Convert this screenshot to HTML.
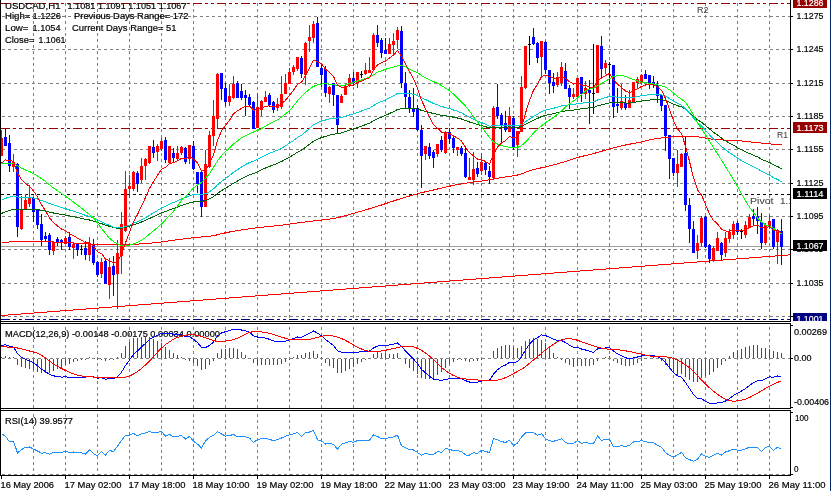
<!DOCTYPE html><html><head><meta charset="utf-8"><style>html,body{margin:0;padding:0;background:#fff;overflow:hidden}svg{display:block}text{font-family:"Liberation Sans",Arial,sans-serif;white-space:pre}</style></head><body>
<svg width="831" height="491" viewBox="0 0 831 491" shape-rendering="crispEdges">
<defs><clipPath id="cmain"><rect x="1" y="0" width="789" height="321"/></clipPath><clipPath id="cmacd"><rect x="1" y="324" width="789" height="84"/></clipPath><clipPath id="crsi"><rect x="1" y="411" width="789" height="64"/></clipPath></defs>
<rect x="0" y="0" width="831" height="491" fill="#fff"/>
<g clip-path="url(#cmain)">
<line x1="0" y1="16.5" x2="790" y2="16.5" stroke="#808080" stroke-dasharray="3 3" stroke-dashoffset="4"/>
<line x1="0" y1="49.5" x2="790" y2="49.5" stroke="#808080" stroke-dasharray="3 3" stroke-dashoffset="4"/>
<line x1="0" y1="83.5" x2="790" y2="83.5" stroke="#808080" stroke-dasharray="3 3" stroke-dashoffset="4"/>
<line x1="0" y1="116.5" x2="790" y2="116.5" stroke="#808080" stroke-dasharray="3 3" stroke-dashoffset="4"/>
<line x1="0" y1="149.5" x2="790" y2="149.5" stroke="#808080" stroke-dasharray="3 3" stroke-dashoffset="4"/>
<line x1="0" y1="183.5" x2="790" y2="183.5" stroke="#808080" stroke-dasharray="3 3" stroke-dashoffset="4"/>
<line x1="0" y1="216.5" x2="790" y2="216.5" stroke="#808080" stroke-dasharray="3 3" stroke-dashoffset="4"/>
<line x1="0" y1="249.5" x2="790" y2="249.5" stroke="#808080" stroke-dasharray="3 3" stroke-dashoffset="4"/>
<line x1="0" y1="283.5" x2="790" y2="283.5" stroke="#808080" stroke-dasharray="3 3" stroke-dashoffset="4"/>
<line x1="0" y1="316.5" x2="790" y2="316.5" stroke="#808080" stroke-dasharray="3 3" stroke-dashoffset="4"/>
<line x1="33.5" y1="0" x2="33.5" y2="321" stroke="#808080" stroke-dasharray="3 3" stroke-dashoffset="3"/>
<line x1="65.5" y1="0" x2="65.5" y2="321" stroke="#808080" stroke-dasharray="3 3" stroke-dashoffset="3"/>
<line x1="97.5" y1="0" x2="97.5" y2="321" stroke="#808080" stroke-dasharray="3 3" stroke-dashoffset="3"/>
<line x1="129.5" y1="0" x2="129.5" y2="321" stroke="#808080" stroke-dasharray="3 3" stroke-dashoffset="3"/>
<line x1="161.5" y1="0" x2="161.5" y2="321" stroke="#808080" stroke-dasharray="3 3" stroke-dashoffset="3"/>
<line x1="193.5" y1="0" x2="193.5" y2="321" stroke="#808080" stroke-dasharray="3 3" stroke-dashoffset="3"/>
<line x1="225.5" y1="0" x2="225.5" y2="321" stroke="#808080" stroke-dasharray="3 3" stroke-dashoffset="3"/>
<line x1="257.5" y1="0" x2="257.5" y2="321" stroke="#808080" stroke-dasharray="3 3" stroke-dashoffset="3"/>
<line x1="289.5" y1="0" x2="289.5" y2="321" stroke="#808080" stroke-dasharray="3 3" stroke-dashoffset="3"/>
<line x1="321.5" y1="0" x2="321.5" y2="321" stroke="#808080" stroke-dasharray="3 3" stroke-dashoffset="3"/>
<line x1="353.5" y1="0" x2="353.5" y2="321" stroke="#808080" stroke-dasharray="3 3" stroke-dashoffset="3"/>
<line x1="385.5" y1="0" x2="385.5" y2="321" stroke="#808080" stroke-dasharray="3 3" stroke-dashoffset="3"/>
<line x1="417.5" y1="0" x2="417.5" y2="321" stroke="#808080" stroke-dasharray="3 3" stroke-dashoffset="3"/>
<line x1="449.5" y1="0" x2="449.5" y2="321" stroke="#808080" stroke-dasharray="3 3" stroke-dashoffset="3"/>
<line x1="481.5" y1="0" x2="481.5" y2="321" stroke="#808080" stroke-dasharray="3 3" stroke-dashoffset="3"/>
<line x1="513.5" y1="0" x2="513.5" y2="321" stroke="#808080" stroke-dasharray="3 3" stroke-dashoffset="3"/>
<line x1="545.5" y1="0" x2="545.5" y2="321" stroke="#808080" stroke-dasharray="3 3" stroke-dashoffset="3"/>
<line x1="577.5" y1="0" x2="577.5" y2="321" stroke="#808080" stroke-dasharray="3 3" stroke-dashoffset="3"/>
<line x1="609.5" y1="0" x2="609.5" y2="321" stroke="#808080" stroke-dasharray="3 3" stroke-dashoffset="3"/>
<line x1="641.5" y1="0" x2="641.5" y2="321" stroke="#808080" stroke-dasharray="3 3" stroke-dashoffset="3"/>
<line x1="673.5" y1="0" x2="673.5" y2="321" stroke="#808080" stroke-dasharray="3 3" stroke-dashoffset="3"/>
<line x1="705.5" y1="0" x2="705.5" y2="321" stroke="#808080" stroke-dasharray="3 3" stroke-dashoffset="3"/>
<line x1="737.5" y1="0" x2="737.5" y2="321" stroke="#808080" stroke-dasharray="3 3" stroke-dashoffset="3"/>
<line x1="769.5" y1="0" x2="769.5" y2="321" stroke="#808080" stroke-dasharray="3 3" stroke-dashoffset="3"/>
</g>
<g clip-path="url(#cmacd)">
<line x1="0" y1="358.5" x2="790" y2="358.5" stroke="#808080" stroke-dasharray="3 3" stroke-dashoffset="4"/>
<line x1="33.5" y1="324" x2="33.5" y2="408" stroke="#808080" stroke-dasharray="3 3" stroke-dashoffset="3"/>
<line x1="65.5" y1="324" x2="65.5" y2="408" stroke="#808080" stroke-dasharray="3 3" stroke-dashoffset="3"/>
<line x1="97.5" y1="324" x2="97.5" y2="408" stroke="#808080" stroke-dasharray="3 3" stroke-dashoffset="3"/>
<line x1="129.5" y1="324" x2="129.5" y2="408" stroke="#808080" stroke-dasharray="3 3" stroke-dashoffset="3"/>
<line x1="161.5" y1="324" x2="161.5" y2="408" stroke="#808080" stroke-dasharray="3 3" stroke-dashoffset="3"/>
<line x1="193.5" y1="324" x2="193.5" y2="408" stroke="#808080" stroke-dasharray="3 3" stroke-dashoffset="3"/>
<line x1="225.5" y1="324" x2="225.5" y2="408" stroke="#808080" stroke-dasharray="3 3" stroke-dashoffset="3"/>
<line x1="257.5" y1="324" x2="257.5" y2="408" stroke="#808080" stroke-dasharray="3 3" stroke-dashoffset="3"/>
<line x1="289.5" y1="324" x2="289.5" y2="408" stroke="#808080" stroke-dasharray="3 3" stroke-dashoffset="3"/>
<line x1="321.5" y1="324" x2="321.5" y2="408" stroke="#808080" stroke-dasharray="3 3" stroke-dashoffset="3"/>
<line x1="353.5" y1="324" x2="353.5" y2="408" stroke="#808080" stroke-dasharray="3 3" stroke-dashoffset="3"/>
<line x1="385.5" y1="324" x2="385.5" y2="408" stroke="#808080" stroke-dasharray="3 3" stroke-dashoffset="3"/>
<line x1="417.5" y1="324" x2="417.5" y2="408" stroke="#808080" stroke-dasharray="3 3" stroke-dashoffset="3"/>
<line x1="449.5" y1="324" x2="449.5" y2="408" stroke="#808080" stroke-dasharray="3 3" stroke-dashoffset="3"/>
<line x1="481.5" y1="324" x2="481.5" y2="408" stroke="#808080" stroke-dasharray="3 3" stroke-dashoffset="3"/>
<line x1="513.5" y1="324" x2="513.5" y2="408" stroke="#808080" stroke-dasharray="3 3" stroke-dashoffset="3"/>
<line x1="545.5" y1="324" x2="545.5" y2="408" stroke="#808080" stroke-dasharray="3 3" stroke-dashoffset="3"/>
<line x1="577.5" y1="324" x2="577.5" y2="408" stroke="#808080" stroke-dasharray="3 3" stroke-dashoffset="3"/>
<line x1="609.5" y1="324" x2="609.5" y2="408" stroke="#808080" stroke-dasharray="3 3" stroke-dashoffset="3"/>
<line x1="641.5" y1="324" x2="641.5" y2="408" stroke="#808080" stroke-dasharray="3 3" stroke-dashoffset="3"/>
<line x1="673.5" y1="324" x2="673.5" y2="408" stroke="#808080" stroke-dasharray="3 3" stroke-dashoffset="3"/>
<line x1="705.5" y1="324" x2="705.5" y2="408" stroke="#808080" stroke-dasharray="3 3" stroke-dashoffset="3"/>
<line x1="737.5" y1="324" x2="737.5" y2="408" stroke="#808080" stroke-dasharray="3 3" stroke-dashoffset="3"/>
<line x1="769.5" y1="324" x2="769.5" y2="408" stroke="#808080" stroke-dasharray="3 3" stroke-dashoffset="3"/>
</g>
<g clip-path="url(#crsi)">
<line x1="0" y1="474.5" x2="790" y2="474.5" stroke="#808080" stroke-dasharray="3 3" stroke-dashoffset="4"/>
<line x1="33.5" y1="411" x2="33.5" y2="475" stroke="#808080" stroke-dasharray="3 3" stroke-dashoffset="3"/>
<line x1="65.5" y1="411" x2="65.5" y2="475" stroke="#808080" stroke-dasharray="3 3" stroke-dashoffset="3"/>
<line x1="97.5" y1="411" x2="97.5" y2="475" stroke="#808080" stroke-dasharray="3 3" stroke-dashoffset="3"/>
<line x1="129.5" y1="411" x2="129.5" y2="475" stroke="#808080" stroke-dasharray="3 3" stroke-dashoffset="3"/>
<line x1="161.5" y1="411" x2="161.5" y2="475" stroke="#808080" stroke-dasharray="3 3" stroke-dashoffset="3"/>
<line x1="193.5" y1="411" x2="193.5" y2="475" stroke="#808080" stroke-dasharray="3 3" stroke-dashoffset="3"/>
<line x1="225.5" y1="411" x2="225.5" y2="475" stroke="#808080" stroke-dasharray="3 3" stroke-dashoffset="3"/>
<line x1="257.5" y1="411" x2="257.5" y2="475" stroke="#808080" stroke-dasharray="3 3" stroke-dashoffset="3"/>
<line x1="289.5" y1="411" x2="289.5" y2="475" stroke="#808080" stroke-dasharray="3 3" stroke-dashoffset="3"/>
<line x1="321.5" y1="411" x2="321.5" y2="475" stroke="#808080" stroke-dasharray="3 3" stroke-dashoffset="3"/>
<line x1="353.5" y1="411" x2="353.5" y2="475" stroke="#808080" stroke-dasharray="3 3" stroke-dashoffset="3"/>
<line x1="385.5" y1="411" x2="385.5" y2="475" stroke="#808080" stroke-dasharray="3 3" stroke-dashoffset="3"/>
<line x1="417.5" y1="411" x2="417.5" y2="475" stroke="#808080" stroke-dasharray="3 3" stroke-dashoffset="3"/>
<line x1="449.5" y1="411" x2="449.5" y2="475" stroke="#808080" stroke-dasharray="3 3" stroke-dashoffset="3"/>
<line x1="481.5" y1="411" x2="481.5" y2="475" stroke="#808080" stroke-dasharray="3 3" stroke-dashoffset="3"/>
<line x1="513.5" y1="411" x2="513.5" y2="475" stroke="#808080" stroke-dasharray="3 3" stroke-dashoffset="3"/>
<line x1="545.5" y1="411" x2="545.5" y2="475" stroke="#808080" stroke-dasharray="3 3" stroke-dashoffset="3"/>
<line x1="577.5" y1="411" x2="577.5" y2="475" stroke="#808080" stroke-dasharray="3 3" stroke-dashoffset="3"/>
<line x1="609.5" y1="411" x2="609.5" y2="475" stroke="#808080" stroke-dasharray="3 3" stroke-dashoffset="3"/>
<line x1="641.5" y1="411" x2="641.5" y2="475" stroke="#808080" stroke-dasharray="3 3" stroke-dashoffset="3"/>
<line x1="673.5" y1="411" x2="673.5" y2="475" stroke="#808080" stroke-dasharray="3 3" stroke-dashoffset="3"/>
<line x1="705.5" y1="411" x2="705.5" y2="475" stroke="#808080" stroke-dasharray="3 3" stroke-dashoffset="3"/>
<line x1="737.5" y1="411" x2="737.5" y2="475" stroke="#808080" stroke-dasharray="3 3" stroke-dashoffset="3"/>
<line x1="769.5" y1="411" x2="769.5" y2="475" stroke="#808080" stroke-dasharray="3 3" stroke-dashoffset="3"/>
</g>
<g clip-path="url(#cmain)">
<line x1="0" y1="3.5" x2="790" y2="3.5" stroke="#960000" stroke-dasharray="9 3 3 3 3 3" stroke-dashoffset="23"/>
<line x1="0" y1="128.5" x2="790" y2="128.5" stroke="#960000" stroke-dasharray="9 3 3 3 3 3" stroke-dashoffset="23"/>
<line x1="0" y1="194.5" x2="790" y2="194.5" stroke="#000" stroke-dasharray="3 3" stroke-dashoffset="5"/>
<line x1="0" y1="319.5" x2="790" y2="319.5" stroke="#000080" stroke-dasharray="9 3 3 3 3 3" stroke-dashoffset="23"/>
<line x1="0" y1="246.5" x2="790" y2="246.5" stroke="#a0a0a0"/>
<line x1="0" y1="315.61" x2="790" y2="254.84" stroke="#ff0000"/>
<text transform="translate(697,13) scale(1,1.0000)" fill="#484848" font-size="9.6" textLength="11.5" lengthAdjust="spacingAndGlyphs" stroke="#484848" stroke-width="0.08" style="will-change:transform">R2</text>
<text transform="translate(777,138) scale(1,1.0000)" fill="#484848" font-size="9.6" textLength="11" lengthAdjust="spacingAndGlyphs" stroke="#484848" stroke-width="0.08" style="will-change:transform">R1</text>
<text transform="translate(750,204) scale(1,1.0000)" fill="#484848" font-size="9.6" textLength="23.5" lengthAdjust="spacingAndGlyphs" stroke="#484848" stroke-width="0.08" style="will-change:transform">Pivot</text>
<text transform="translate(780,204) scale(1,1.0000)" fill="#484848" font-size="9.6" textLength="29" lengthAdjust="spacingAndGlyphs" stroke="#484848" stroke-width="0.08" style="will-change:transform">1.1114</text>
<rect x="1" y="130" width="1" height="26" fill="#ff0000"/>
<rect x="0" y="138" width="3" height="18" fill="#ff0000"/>
<rect x="5" y="128" width="1" height="18" fill="#0000ff"/>
<rect x="4" y="137" width="3" height="9" fill="#0000ff"/>
<rect x="9" y="135" width="1" height="37" fill="#0000ff"/>
<rect x="8" y="143" width="3" height="23" fill="#0000ff"/>
<rect x="13" y="154" width="1" height="18" fill="#ff0000"/>
<rect x="12" y="162" width="3" height="5" fill="#ff0000"/>
<rect x="17" y="163" width="1" height="74" fill="#0000ff"/>
<rect x="16" y="164" width="3" height="63" fill="#0000ff"/>
<rect x="21" y="196" width="1" height="34" fill="#ff0000"/>
<rect x="20" y="210" width="3" height="19" fill="#ff0000"/>
<rect x="25" y="194" width="1" height="15" fill="#ff0000"/>
<rect x="24" y="200" width="3" height="9" fill="#ff0000"/>
<rect x="29" y="185" width="1" height="22" fill="#ff0000"/>
<rect x="28" y="198" width="3" height="6" fill="#ff0000"/>
<rect x="33" y="197" width="1" height="25" fill="#0000ff"/>
<rect x="32" y="198" width="3" height="14" fill="#0000ff"/>
<rect x="37" y="209" width="1" height="20" fill="#0000ff"/>
<rect x="36" y="210" width="3" height="15" fill="#0000ff"/>
<rect x="41" y="214" width="1" height="32" fill="#0000ff"/>
<rect x="40" y="224" width="3" height="16" fill="#0000ff"/>
<rect x="45" y="232" width="1" height="10" fill="#0000ff"/>
<rect x="44" y="236" width="3" height="3" fill="#0000ff"/>
<rect x="49" y="233" width="1" height="22" fill="#0000ff"/>
<rect x="48" y="235" width="3" height="15" fill="#0000ff"/>
<rect x="53" y="242" width="1" height="13" fill="#ff0000"/>
<rect x="52" y="242" width="3" height="9" fill="#ff0000"/>
<rect x="57" y="237" width="1" height="9" fill="#0000ff"/>
<rect x="56" y="239" width="3" height="4" fill="#0000ff"/>
<rect x="61" y="239" width="1" height="11" fill="#0000ff"/>
<rect x="60" y="240" width="3" height="3" fill="#0000ff"/>
<rect x="65" y="236" width="1" height="8" fill="#ff0000"/>
<rect x="64" y="238" width="3" height="6" fill="#ff0000"/>
<rect x="69" y="232" width="1" height="18" fill="#0000ff"/>
<rect x="68" y="237" width="3" height="10" fill="#0000ff"/>
<rect x="73" y="243" width="1" height="16" fill="#ff0000"/>
<rect x="72" y="244" width="3" height="4" fill="#ff0000"/>
<rect x="77" y="244" width="1" height="12" fill="#0000ff"/>
<rect x="76" y="244" width="3" height="6" fill="#0000ff"/>
<rect x="81" y="245" width="1" height="10" fill="#000"/>
<rect x="80" y="249" width="3" height="1" fill="#000"/>
<rect x="85" y="241" width="1" height="19" fill="#0000ff"/>
<rect x="84" y="248" width="3" height="7" fill="#0000ff"/>
<rect x="89" y="237" width="1" height="24" fill="#ff0000"/>
<rect x="88" y="243" width="3" height="12" fill="#ff0000"/>
<rect x="93" y="239" width="1" height="26" fill="#0000ff"/>
<rect x="92" y="245" width="3" height="18" fill="#0000ff"/>
<rect x="97" y="261" width="1" height="16" fill="#0000ff"/>
<rect x="96" y="262" width="3" height="13" fill="#0000ff"/>
<rect x="101" y="258" width="1" height="20" fill="#ff0000"/>
<rect x="100" y="262" width="3" height="12" fill="#ff0000"/>
<rect x="105" y="259" width="1" height="25" fill="#0000ff"/>
<rect x="104" y="261" width="3" height="23" fill="#0000ff"/>
<rect x="109" y="258" width="1" height="41" fill="#ff0000"/>
<rect x="108" y="267" width="3" height="18" fill="#ff0000"/>
<rect x="113" y="256" width="1" height="40" fill="#0000ff"/>
<rect x="112" y="266" width="3" height="9" fill="#0000ff"/>
<rect x="117" y="240" width="1" height="69" fill="#ff0000"/>
<rect x="116" y="253" width="3" height="21" fill="#ff0000"/>
<rect x="121" y="212" width="1" height="62" fill="#ff0000"/>
<rect x="120" y="224" width="3" height="32" fill="#ff0000"/>
<rect x="125" y="171" width="1" height="61" fill="#ff0000"/>
<rect x="124" y="189" width="3" height="42" fill="#ff0000"/>
<rect x="129" y="175" width="1" height="23" fill="#ff0000"/>
<rect x="128" y="186" width="3" height="3" fill="#ff0000"/>
<rect x="133" y="171" width="1" height="20" fill="#ff0000"/>
<rect x="132" y="172" width="3" height="17" fill="#ff0000"/>
<rect x="137" y="171" width="1" height="21" fill="#0000ff"/>
<rect x="136" y="173" width="3" height="11" fill="#0000ff"/>
<rect x="141" y="158" width="1" height="25" fill="#ff0000"/>
<rect x="140" y="166" width="3" height="14" fill="#ff0000"/>
<rect x="145" y="158" width="1" height="22" fill="#ff0000"/>
<rect x="144" y="159" width="3" height="7" fill="#ff0000"/>
<rect x="149" y="146" width="1" height="18" fill="#ff0000"/>
<rect x="148" y="146" width="3" height="17" fill="#ff0000"/>
<rect x="153" y="140" width="1" height="18" fill="#0000ff"/>
<rect x="152" y="147" width="3" height="6" fill="#0000ff"/>
<rect x="157" y="144" width="1" height="17" fill="#ff0000"/>
<rect x="156" y="146" width="3" height="6" fill="#ff0000"/>
<rect x="161" y="138" width="1" height="13" fill="#ff0000"/>
<rect x="160" y="141" width="3" height="8" fill="#ff0000"/>
<rect x="165" y="137" width="1" height="26" fill="#0000ff"/>
<rect x="164" y="140" width="3" height="20" fill="#0000ff"/>
<rect x="169" y="146" width="1" height="18" fill="#ff0000"/>
<rect x="168" y="146" width="3" height="17" fill="#ff0000"/>
<rect x="173" y="148" width="1" height="15" fill="#0000ff"/>
<rect x="172" y="153" width="3" height="5" fill="#0000ff"/>
<rect x="177" y="146" width="1" height="14" fill="#ff0000"/>
<rect x="176" y="153" width="3" height="6" fill="#ff0000"/>
<rect x="181" y="146" width="1" height="9" fill="#ff0000"/>
<rect x="180" y="147" width="3" height="6" fill="#ff0000"/>
<rect x="185" y="147" width="1" height="17" fill="#0000ff"/>
<rect x="184" y="148" width="3" height="14" fill="#0000ff"/>
<rect x="189" y="145" width="1" height="19" fill="#ff0000"/>
<rect x="188" y="145" width="3" height="14" fill="#ff0000"/>
<rect x="193" y="141" width="1" height="29" fill="#0000ff"/>
<rect x="192" y="146" width="3" height="23" fill="#0000ff"/>
<rect x="197" y="172" width="1" height="21" fill="#0000ff"/>
<rect x="196" y="172" width="3" height="12" fill="#0000ff"/>
<rect x="201" y="172" width="1" height="45" fill="#0000ff"/>
<rect x="200" y="172" width="3" height="35" fill="#0000ff"/>
<rect x="205" y="150" width="1" height="57" fill="#ff0000"/>
<rect x="204" y="164" width="3" height="43" fill="#ff0000"/>
<rect x="209" y="131" width="1" height="37" fill="#ff0000"/>
<rect x="208" y="135" width="3" height="32" fill="#ff0000"/>
<rect x="213" y="100" width="1" height="46" fill="#ff0000"/>
<rect x="212" y="116" width="3" height="20" fill="#ff0000"/>
<rect x="217" y="73" width="1" height="55" fill="#ff0000"/>
<rect x="216" y="74" width="3" height="45" fill="#ff0000"/>
<rect x="221" y="73" width="1" height="27" fill="#0000ff"/>
<rect x="220" y="73" width="3" height="16" fill="#0000ff"/>
<rect x="225" y="83" width="1" height="23" fill="#0000ff"/>
<rect x="224" y="88" width="3" height="14" fill="#0000ff"/>
<rect x="229" y="84" width="1" height="22" fill="#ff0000"/>
<rect x="228" y="96" width="3" height="6" fill="#ff0000"/>
<rect x="233" y="76" width="1" height="23" fill="#ff0000"/>
<rect x="232" y="84" width="3" height="14" fill="#ff0000"/>
<rect x="237" y="81" width="1" height="17" fill="#0000ff"/>
<rect x="236" y="83" width="3" height="15" fill="#0000ff"/>
<rect x="241" y="84" width="1" height="16" fill="#0000ff"/>
<rect x="240" y="91" width="3" height="7" fill="#0000ff"/>
<rect x="245" y="90" width="1" height="26" fill="#0000ff"/>
<rect x="244" y="95" width="3" height="3" fill="#0000ff"/>
<rect x="249" y="94" width="1" height="13" fill="#0000ff"/>
<rect x="248" y="97" width="3" height="8" fill="#0000ff"/>
<rect x="253" y="101" width="1" height="28" fill="#0000ff"/>
<rect x="252" y="102" width="3" height="27" fill="#0000ff"/>
<rect x="257" y="93" width="1" height="35" fill="#ff0000"/>
<rect x="256" y="107" width="3" height="21" fill="#ff0000"/>
<rect x="261" y="100" width="1" height="16" fill="#ff0000"/>
<rect x="260" y="101" width="3" height="9" fill="#ff0000"/>
<rect x="265" y="91" width="1" height="11" fill="#ff0000"/>
<rect x="264" y="97" width="3" height="5" fill="#ff0000"/>
<rect x="269" y="93" width="1" height="14" fill="#0000ff"/>
<rect x="268" y="95" width="3" height="10" fill="#0000ff"/>
<rect x="273" y="101" width="1" height="12" fill="#0000ff"/>
<rect x="272" y="102" width="3" height="8" fill="#0000ff"/>
<rect x="277" y="98" width="1" height="13" fill="#ff0000"/>
<rect x="276" y="104" width="3" height="4" fill="#ff0000"/>
<rect x="281" y="76" width="1" height="33" fill="#ff0000"/>
<rect x="280" y="94" width="3" height="13" fill="#ff0000"/>
<rect x="285" y="74" width="1" height="20" fill="#ff0000"/>
<rect x="284" y="83" width="3" height="11" fill="#ff0000"/>
<rect x="289" y="68" width="1" height="16" fill="#ff0000"/>
<rect x="288" y="72" width="3" height="12" fill="#ff0000"/>
<rect x="293" y="65" width="1" height="10" fill="#ff0000"/>
<rect x="292" y="67" width="3" height="5" fill="#ff0000"/>
<rect x="297" y="57" width="1" height="14" fill="#ff0000"/>
<rect x="296" y="57" width="3" height="12" fill="#ff0000"/>
<rect x="301" y="56" width="1" height="22" fill="#0000ff"/>
<rect x="300" y="58" width="3" height="16" fill="#0000ff"/>
<rect x="305" y="42" width="1" height="43" fill="#ff0000"/>
<rect x="304" y="43" width="3" height="32" fill="#ff0000"/>
<rect x="309" y="25" width="1" height="27" fill="#ff0000"/>
<rect x="308" y="37" width="3" height="4" fill="#ff0000"/>
<rect x="313" y="21" width="1" height="22" fill="#ff0000"/>
<rect x="312" y="24" width="3" height="14" fill="#ff0000"/>
<rect x="317" y="17" width="1" height="50" fill="#0000ff"/>
<rect x="316" y="23" width="3" height="44" fill="#0000ff"/>
<rect x="321" y="64" width="1" height="23" fill="#0000ff"/>
<rect x="320" y="68" width="3" height="7" fill="#0000ff"/>
<rect x="325" y="66" width="1" height="31" fill="#0000ff"/>
<rect x="324" y="69" width="3" height="24" fill="#0000ff"/>
<rect x="329" y="86" width="1" height="17" fill="#ff0000"/>
<rect x="328" y="87" width="3" height="7" fill="#ff0000"/>
<rect x="333" y="83" width="1" height="23" fill="#0000ff"/>
<rect x="332" y="83" width="3" height="12" fill="#0000ff"/>
<rect x="337" y="95" width="1" height="39" fill="#0000ff"/>
<rect x="336" y="95" width="3" height="30" fill="#0000ff"/>
<rect x="341" y="94" width="1" height="9" fill="#ff0000"/>
<rect x="340" y="96" width="3" height="7" fill="#ff0000"/>
<rect x="345" y="85" width="1" height="10" fill="#ff0000"/>
<rect x="344" y="86" width="3" height="9" fill="#ff0000"/>
<rect x="349" y="74" width="1" height="13" fill="#ff0000"/>
<rect x="348" y="78" width="3" height="8" fill="#ff0000"/>
<rect x="353" y="72" width="1" height="14" fill="#0000ff"/>
<rect x="352" y="78" width="3" height="5" fill="#0000ff"/>
<rect x="357" y="72" width="1" height="16" fill="#ff0000"/>
<rect x="356" y="72" width="3" height="11" fill="#ff0000"/>
<rect x="361" y="71" width="1" height="7" fill="#000"/>
<rect x="360" y="74" width="3" height="1" fill="#000"/>
<rect x="365" y="63" width="1" height="12" fill="#ff0000"/>
<rect x="364" y="70" width="3" height="4" fill="#ff0000"/>
<rect x="369" y="57" width="1" height="16" fill="#ff0000"/>
<rect x="368" y="70" width="3" height="3" fill="#ff0000"/>
<rect x="373" y="33" width="1" height="37" fill="#ff0000"/>
<rect x="372" y="35" width="3" height="35" fill="#ff0000"/>
<rect x="377" y="25" width="1" height="22" fill="#0000ff"/>
<rect x="376" y="35" width="3" height="8" fill="#0000ff"/>
<rect x="381" y="38" width="1" height="20" fill="#0000ff"/>
<rect x="380" y="40" width="3" height="13" fill="#0000ff"/>
<rect x="385" y="38" width="1" height="16" fill="#0000ff"/>
<rect x="384" y="50" width="3" height="4" fill="#0000ff"/>
<rect x="389" y="38" width="1" height="16" fill="#ff0000"/>
<rect x="388" y="44" width="3" height="10" fill="#ff0000"/>
<rect x="393" y="33" width="1" height="21" fill="#ff0000"/>
<rect x="392" y="41" width="3" height="4" fill="#ff0000"/>
<rect x="397" y="27" width="1" height="22" fill="#ff0000"/>
<rect x="396" y="30" width="3" height="10" fill="#ff0000"/>
<rect x="401" y="26" width="1" height="62" fill="#0000ff"/>
<rect x="400" y="31" width="3" height="52" fill="#0000ff"/>
<rect x="405" y="72" width="1" height="37" fill="#0000ff"/>
<rect x="404" y="83" width="3" height="14" fill="#0000ff"/>
<rect x="409" y="90" width="1" height="23" fill="#0000ff"/>
<rect x="408" y="97" width="3" height="11" fill="#0000ff"/>
<rect x="413" y="88" width="1" height="29" fill="#0000ff"/>
<rect x="412" y="108" width="3" height="4" fill="#0000ff"/>
<rect x="417" y="105" width="1" height="26" fill="#0000ff"/>
<rect x="416" y="108" width="3" height="22" fill="#0000ff"/>
<rect x="421" y="125" width="1" height="63" fill="#0000ff"/>
<rect x="420" y="130" width="3" height="26" fill="#0000ff"/>
<rect x="425" y="146" width="1" height="14" fill="#ff0000"/>
<rect x="424" y="146" width="3" height="8" fill="#ff0000"/>
<rect x="429" y="143" width="1" height="16" fill="#0000ff"/>
<rect x="428" y="147" width="3" height="9" fill="#0000ff"/>
<rect x="433" y="150" width="1" height="18" fill="#0000ff"/>
<rect x="432" y="152" width="3" height="6" fill="#0000ff"/>
<rect x="437" y="144" width="1" height="13" fill="#ff0000"/>
<rect x="436" y="144" width="3" height="10" fill="#ff0000"/>
<rect x="441" y="136" width="1" height="16" fill="#0000ff"/>
<rect x="440" y="140" width="3" height="10" fill="#0000ff"/>
<rect x="445" y="131" width="1" height="23" fill="#ff0000"/>
<rect x="444" y="133" width="3" height="20" fill="#ff0000"/>
<rect x="449" y="128" width="1" height="16" fill="#0000ff"/>
<rect x="448" y="132" width="3" height="7" fill="#0000ff"/>
<rect x="453" y="136" width="1" height="17" fill="#0000ff"/>
<rect x="452" y="138" width="3" height="10" fill="#0000ff"/>
<rect x="457" y="147" width="1" height="9" fill="#ff0000"/>
<rect x="456" y="147" width="3" height="3" fill="#ff0000"/>
<rect x="461" y="146" width="1" height="10" fill="#0000ff"/>
<rect x="460" y="148" width="3" height="6" fill="#0000ff"/>
<rect x="465" y="148" width="1" height="30" fill="#0000ff"/>
<rect x="464" y="153" width="3" height="24" fill="#0000ff"/>
<rect x="469" y="158" width="1" height="22" fill="#ff0000"/>
<rect x="468" y="177" width="3" height="3" fill="#ff0000"/>
<rect x="473" y="152" width="1" height="33" fill="#ff0000"/>
<rect x="472" y="169" width="3" height="11" fill="#ff0000"/>
<rect x="477" y="162" width="1" height="15" fill="#0000ff"/>
<rect x="476" y="168" width="3" height="6" fill="#0000ff"/>
<rect x="481" y="153" width="1" height="22" fill="#ff0000"/>
<rect x="480" y="162" width="3" height="9" fill="#ff0000"/>
<rect x="485" y="162" width="1" height="13" fill="#0000ff"/>
<rect x="484" y="163" width="3" height="7" fill="#0000ff"/>
<rect x="489" y="166" width="1" height="18" fill="#0000ff"/>
<rect x="488" y="171" width="3" height="6" fill="#0000ff"/>
<rect x="493" y="106" width="1" height="73" fill="#ff0000"/>
<rect x="492" y="108" width="3" height="70" fill="#ff0000"/>
<rect x="497" y="84" width="1" height="35" fill="#0000ff"/>
<rect x="496" y="107" width="3" height="9" fill="#0000ff"/>
<rect x="501" y="113" width="1" height="29" fill="#0000ff"/>
<rect x="500" y="115" width="3" height="10" fill="#0000ff"/>
<rect x="505" y="111" width="1" height="21" fill="#0000ff"/>
<rect x="504" y="123" width="3" height="7" fill="#0000ff"/>
<rect x="509" y="107" width="1" height="25" fill="#ff0000"/>
<rect x="508" y="116" width="3" height="16" fill="#ff0000"/>
<rect x="513" y="116" width="1" height="34" fill="#0000ff"/>
<rect x="512" y="118" width="3" height="29" fill="#0000ff"/>
<rect x="517" y="131" width="1" height="26" fill="#ff0000"/>
<rect x="516" y="131" width="3" height="14" fill="#ff0000"/>
<rect x="521" y="76" width="1" height="56" fill="#ff0000"/>
<rect x="520" y="87" width="3" height="45" fill="#ff0000"/>
<rect x="525" y="46" width="1" height="43" fill="#ff0000"/>
<rect x="524" y="46" width="3" height="42" fill="#ff0000"/>
<rect x="529" y="36" width="1" height="29" fill="#000"/>
<rect x="528" y="44" width="3" height="1" fill="#000"/>
<rect x="533" y="28" width="1" height="17" fill="#0000ff"/>
<rect x="532" y="37" width="3" height="7" fill="#0000ff"/>
<rect x="537" y="42" width="1" height="21" fill="#0000ff"/>
<rect x="536" y="43" width="3" height="15" fill="#0000ff"/>
<rect x="541" y="41" width="1" height="35" fill="#ff0000"/>
<rect x="540" y="41" width="3" height="16" fill="#ff0000"/>
<rect x="545" y="41" width="1" height="33" fill="#0000ff"/>
<rect x="544" y="42" width="3" height="28" fill="#0000ff"/>
<rect x="549" y="70" width="1" height="24" fill="#0000ff"/>
<rect x="548" y="70" width="3" height="13" fill="#0000ff"/>
<rect x="553" y="73" width="1" height="20" fill="#0000ff"/>
<rect x="552" y="82" width="3" height="4" fill="#0000ff"/>
<rect x="557" y="72" width="1" height="15" fill="#ff0000"/>
<rect x="556" y="77" width="3" height="8" fill="#ff0000"/>
<rect x="561" y="62" width="1" height="24" fill="#ff0000"/>
<rect x="560" y="67" width="3" height="16" fill="#ff0000"/>
<rect x="565" y="63" width="1" height="26" fill="#0000ff"/>
<rect x="564" y="71" width="3" height="18" fill="#0000ff"/>
<rect x="569" y="85" width="1" height="24" fill="#0000ff"/>
<rect x="568" y="88" width="3" height="9" fill="#0000ff"/>
<rect x="573" y="88" width="1" height="11" fill="#ff0000"/>
<rect x="572" y="94" width="3" height="3" fill="#ff0000"/>
<rect x="577" y="78" width="1" height="20" fill="#ff0000"/>
<rect x="576" y="78" width="3" height="19" fill="#ff0000"/>
<rect x="581" y="77" width="1" height="25" fill="#0000ff"/>
<rect x="580" y="77" width="3" height="17" fill="#0000ff"/>
<rect x="585" y="81" width="1" height="18" fill="#ff0000"/>
<rect x="584" y="88" width="3" height="6" fill="#ff0000"/>
<rect x="589" y="80" width="1" height="44" fill="#0000ff"/>
<rect x="588" y="90" width="3" height="3" fill="#0000ff"/>
<rect x="593" y="44" width="1" height="70" fill="#000"/>
<rect x="592" y="93" width="3" height="1" fill="#000"/>
<rect x="597" y="45" width="1" height="48" fill="#ff0000"/>
<rect x="596" y="45" width="3" height="48" fill="#ff0000"/>
<rect x="601" y="36" width="1" height="42" fill="#0000ff"/>
<rect x="600" y="46" width="3" height="23" fill="#0000ff"/>
<rect x="605" y="60" width="1" height="14" fill="#ff0000"/>
<rect x="604" y="63" width="3" height="5" fill="#ff0000"/>
<rect x="609" y="62" width="1" height="22" fill="#000"/>
<rect x="608" y="64" width="3" height="1" fill="#000"/>
<rect x="613" y="65" width="1" height="53" fill="#0000ff"/>
<rect x="612" y="65" width="3" height="42" fill="#0000ff"/>
<rect x="617" y="88" width="1" height="25" fill="#0000ff"/>
<rect x="616" y="104" width="3" height="2" fill="#0000ff"/>
<rect x="621" y="84" width="1" height="26" fill="#ff0000"/>
<rect x="620" y="101" width="3" height="7" fill="#ff0000"/>
<rect x="625" y="95" width="1" height="15" fill="#0000ff"/>
<rect x="624" y="103" width="3" height="5" fill="#0000ff"/>
<rect x="629" y="90" width="1" height="18" fill="#ff0000"/>
<rect x="628" y="100" width="3" height="8" fill="#ff0000"/>
<rect x="633" y="82" width="1" height="21" fill="#ff0000"/>
<rect x="632" y="82" width="3" height="21" fill="#ff0000"/>
<rect x="637" y="77" width="1" height="11" fill="#ff0000"/>
<rect x="636" y="79" width="3" height="4" fill="#ff0000"/>
<rect x="641" y="74" width="1" height="11" fill="#ff0000"/>
<rect x="640" y="75" width="3" height="8" fill="#ff0000"/>
<rect x="645" y="70" width="1" height="9" fill="#0000ff"/>
<rect x="644" y="74" width="3" height="5" fill="#0000ff"/>
<rect x="649" y="75" width="1" height="14" fill="#0000ff"/>
<rect x="648" y="75" width="3" height="10" fill="#0000ff"/>
<rect x="653" y="76" width="1" height="12" fill="#0000ff"/>
<rect x="652" y="82" width="3" height="3" fill="#0000ff"/>
<rect x="657" y="81" width="1" height="22" fill="#0000ff"/>
<rect x="656" y="85" width="3" height="11" fill="#0000ff"/>
<rect x="661" y="94" width="1" height="17" fill="#0000ff"/>
<rect x="660" y="95" width="3" height="11" fill="#0000ff"/>
<rect x="665" y="105" width="1" height="46" fill="#0000ff"/>
<rect x="664" y="105" width="3" height="31" fill="#0000ff"/>
<rect x="669" y="135" width="1" height="44" fill="#0000ff"/>
<rect x="668" y="135" width="3" height="24" fill="#0000ff"/>
<rect x="673" y="158" width="1" height="18" fill="#0000ff"/>
<rect x="672" y="158" width="3" height="15" fill="#0000ff"/>
<rect x="677" y="150" width="1" height="37" fill="#ff0000"/>
<rect x="676" y="164" width="3" height="9" fill="#ff0000"/>
<rect x="681" y="153" width="1" height="14" fill="#ff0000"/>
<rect x="680" y="154" width="3" height="13" fill="#ff0000"/>
<rect x="685" y="137" width="1" height="74" fill="#0000ff"/>
<rect x="684" y="153" width="3" height="52" fill="#0000ff"/>
<rect x="689" y="198" width="1" height="45" fill="#0000ff"/>
<rect x="688" y="205" width="3" height="24" fill="#0000ff"/>
<rect x="693" y="221" width="1" height="32" fill="#0000ff"/>
<rect x="692" y="229" width="3" height="24" fill="#0000ff"/>
<rect x="697" y="235" width="1" height="24" fill="#ff0000"/>
<rect x="696" y="243" width="3" height="8" fill="#ff0000"/>
<rect x="701" y="216" width="1" height="31" fill="#ff0000"/>
<rect x="700" y="218" width="3" height="25" fill="#ff0000"/>
<rect x="705" y="216" width="1" height="32" fill="#0000ff"/>
<rect x="704" y="217" width="3" height="30" fill="#0000ff"/>
<rect x="709" y="244" width="1" height="19" fill="#0000ff"/>
<rect x="708" y="245" width="3" height="14" fill="#0000ff"/>
<rect x="713" y="246" width="1" height="16" fill="#ff0000"/>
<rect x="712" y="248" width="3" height="12" fill="#ff0000"/>
<rect x="717" y="232" width="1" height="19" fill="#ff0000"/>
<rect x="716" y="238" width="3" height="13" fill="#ff0000"/>
<rect x="721" y="242" width="1" height="18" fill="#0000ff"/>
<rect x="720" y="243" width="3" height="12" fill="#0000ff"/>
<rect x="725" y="232" width="1" height="25" fill="#ff0000"/>
<rect x="724" y="238" width="3" height="15" fill="#ff0000"/>
<rect x="729" y="229" width="1" height="14" fill="#ff0000"/>
<rect x="728" y="232" width="3" height="7" fill="#ff0000"/>
<rect x="733" y="221" width="1" height="18" fill="#ff0000"/>
<rect x="732" y="224" width="3" height="11" fill="#ff0000"/>
<rect x="737" y="221" width="1" height="14" fill="#0000ff"/>
<rect x="736" y="223" width="3" height="9" fill="#0000ff"/>
<rect x="741" y="229" width="1" height="10" fill="#000"/>
<rect x="740" y="231" width="3" height="1" fill="#000"/>
<rect x="745" y="221" width="1" height="17" fill="#ff0000"/>
<rect x="744" y="225" width="3" height="10" fill="#ff0000"/>
<rect x="749" y="214" width="1" height="14" fill="#ff0000"/>
<rect x="748" y="217" width="3" height="10" fill="#ff0000"/>
<rect x="753" y="209" width="1" height="17" fill="#0000ff"/>
<rect x="752" y="216" width="3" height="3" fill="#0000ff"/>
<rect x="757" y="207" width="1" height="27" fill="#0000ff"/>
<rect x="756" y="216" width="3" height="5" fill="#0000ff"/>
<rect x="761" y="213" width="1" height="36" fill="#0000ff"/>
<rect x="760" y="222" width="3" height="21" fill="#0000ff"/>
<rect x="765" y="223" width="1" height="22" fill="#ff0000"/>
<rect x="764" y="225" width="3" height="18" fill="#ff0000"/>
<rect x="769" y="215" width="1" height="14" fill="#ff0000"/>
<rect x="768" y="221" width="3" height="5" fill="#ff0000"/>
<rect x="773" y="219" width="1" height="30" fill="#0000ff"/>
<rect x="772" y="219" width="3" height="28" fill="#0000ff"/>
<rect x="777" y="229" width="1" height="35" fill="#ff0000"/>
<rect x="776" y="230" width="3" height="12" fill="#ff0000"/>
<rect x="781" y="219" width="1" height="46" fill="#0000ff"/>
<rect x="780" y="231" width="3" height="16" fill="#0000ff"/>
<polyline points="1.5,242.4 5.5,242.1 9.5,242.0 13.5,241.9 17.5,241.8 21.5,241.8 25.5,241.8 29.5,241.7 33.5,241.7 37.5,241.7 41.5,241.7 45.5,241.8 49.5,241.9 53.5,242.0 57.5,242.2 61.5,242.4 65.5,242.6 69.5,242.9 73.5,243.0 77.5,243.3 81.5,243.5 85.5,243.8 89.5,244.0 93.5,244.2 97.5,244.4 101.5,244.4 105.5,244.4 109.5,244.4 113.5,244.4 117.5,244.4 121.5,244.4 125.5,244.4 129.5,244.4 133.5,244.2 137.5,244.1 141.5,243.8 145.5,243.6 149.5,243.3 153.5,242.9 157.5,242.4 161.5,241.9 165.5,241.4 169.5,240.8 173.5,240.3 177.5,239.7 181.5,239.2 185.5,238.7 189.5,238.2 193.5,237.7 197.5,237.3 201.5,237.0 205.5,236.6 209.5,236.2 213.5,235.7 217.5,234.8 221.5,233.7 225.5,232.8 229.5,232.0 233.5,231.3 237.5,230.6 241.5,230.0 245.5,229.4 249.5,228.8 253.5,228.2 257.5,227.7 261.5,227.3 265.5,226.9 269.5,226.5 273.5,226.1 277.5,225.7 281.5,225.2 285.5,224.7 289.5,224.1 293.5,223.5 297.5,222.9 301.5,222.4 305.5,221.9 309.5,221.4 313.5,221.0 317.5,220.6 321.5,220.1 325.5,219.6 329.5,219.1 333.5,218.5 337.5,217.7 341.5,216.8 345.5,215.7 349.5,214.5 353.5,213.4 357.5,212.2 361.5,211.1 365.5,209.9 369.5,208.7 373.5,207.5 377.5,206.2 381.5,205.0 385.5,203.7 389.5,202.3 393.5,201.0 397.5,199.7 401.5,198.4 405.5,197.2 409.5,196.0 413.5,194.9 417.5,193.8 421.5,192.7 425.5,191.8 429.5,190.9 433.5,190.0 437.5,189.0 441.5,188.1 445.5,187.1 449.5,186.2 453.5,185.4 457.5,184.6 461.5,183.9 465.5,183.2 469.5,182.6 473.5,182.0 477.5,181.6 481.5,181.1 485.5,180.5 489.5,179.8 493.5,179.0 497.5,178.2 501.5,177.5 505.5,176.9 509.5,176.4 513.5,175.8 517.5,175.0 521.5,173.8 525.5,172.3 529.5,170.8 533.5,169.7 537.5,168.7 541.5,167.8 545.5,166.8 549.5,165.9 553.5,164.9 557.5,163.8 561.5,162.7 565.5,161.4 569.5,160.1 573.5,158.7 577.5,157.5 581.5,156.5 585.5,155.5 589.5,154.6 593.5,153.6 597.5,152.4 601.5,151.3 605.5,150.1 609.5,149.0 613.5,147.9 617.5,146.9 621.5,145.9 625.5,145.0 629.5,144.2 633.5,143.4 637.5,142.7 641.5,141.9 645.5,140.9 649.5,139.9 653.5,139.1 657.5,138.4 661.5,137.9 665.5,137.4 669.5,137.1 673.5,136.9 677.5,136.6 681.5,136.5 685.5,136.5 689.5,136.6 693.5,136.7 697.5,136.9 701.5,137.2 705.5,138.1 709.5,138.8 713.5,139.3 717.5,139.6 721.5,139.9 725.5,140.2 729.5,140.4 733.5,140.6 737.5,140.8 741.5,141.0 745.5,141.4 749.5,141.8 753.5,142.3 757.5,142.7 761.5,143.1 765.5,143.5 769.5,143.9 773.5,144.2 777.5,144.5 781.5,144.7" fill="none" stroke="#ff0000" stroke-width="1"/>
<polyline points="1.5,213.5 5.5,211.7 9.5,210.5 13.5,209.2 17.5,209.7 21.5,209.7 25.5,209.4 29.5,209.2 33.5,209.2 37.5,209.6 41.5,210.4 45.5,211.1 49.5,212.2 53.5,213.0 57.5,213.7 61.5,214.5 65.5,215.1 69.5,215.9 73.5,216.7 77.5,217.6 81.5,218.4 85.5,219.3 89.5,220.0 93.5,221.1 97.5,222.5 101.5,223.6 105.5,225.1 109.5,226.3 113.5,227.5 117.5,228.2 121.5,228.1 125.5,227.1 129.5,226.0 133.5,224.6 137.5,223.5 141.5,222.0 145.5,220.4 149.5,218.4 153.5,216.7 157.5,214.9 161.5,212.9 165.5,211.5 169.5,209.8 173.5,208.4 177.5,207.0 181.5,205.4 185.5,204.3 189.5,202.7 193.5,201.8 197.5,201.3 201.5,201.5 205.5,200.5 209.5,198.8 213.5,196.6 217.5,193.4 221.5,190.7 225.5,188.3 229.5,185.9 233.5,183.2 237.5,181.0 241.5,178.8 245.5,176.6 249.5,174.7 253.5,173.5 257.5,171.8 261.5,169.9 265.5,168.0 269.5,166.4 273.5,164.9 277.5,163.3 281.5,161.5 285.5,159.4 289.5,157.1 293.5,154.8 297.5,152.2 301.5,150.1 305.5,147.3 309.5,144.4 313.5,141.3 317.5,139.3 321.5,137.6 325.5,136.4 329.5,135.1 333.5,134.1 337.5,133.8 341.5,132.8 345.5,131.6 349.5,130.2 353.5,129.0 357.5,127.5 361.5,126.1 365.5,124.6 369.5,123.2 373.5,120.9 377.5,118.8 381.5,117.1 385.5,115.4 389.5,113.5 393.5,111.6 397.5,109.5 401.5,108.8 405.5,108.5 409.5,108.4 413.5,108.5 417.5,109.1 421.5,110.3 425.5,111.3 429.5,112.4 433.5,113.6 437.5,114.4 441.5,115.3 445.5,115.8 449.5,116.4 453.5,117.2 457.5,118.0 461.5,119.0 465.5,120.5 469.5,122.0 473.5,123.2 477.5,124.5 481.5,125.5 485.5,126.7 489.5,128.0 493.5,127.5 497.5,127.2 501.5,127.1 505.5,127.2 509.5,126.9 513.5,127.4 517.5,127.5 521.5,126.5 525.5,124.4 529.5,122.3 533.5,120.2 537.5,118.5 541.5,116.5 545.5,115.3 549.5,114.4 553.5,113.7 557.5,112.7 561.5,111.5 565.5,110.9 569.5,110.5 573.5,110.1 577.5,109.3 581.5,108.9 585.5,108.3 589.5,107.9 593.5,107.5 597.5,105.9 601.5,104.9 605.5,103.8 609.5,102.8 613.5,102.9 617.5,103.0 621.5,102.9 625.5,103.0 629.5,103.0 633.5,102.4 637.5,101.8 641.5,101.1 645.5,100.5 649.5,100.1 653.5,99.7 657.5,99.6 661.5,99.7 665.5,100.7 669.5,102.2 673.5,104.1 677.5,105.7 681.5,106.9 685.5,109.5 689.5,112.6 693.5,116.3 697.5,119.7 701.5,122.3 705.5,125.5 709.5,129.0 713.5,132.2 717.5,135.0 721.5,138.1 725.5,140.8 729.5,143.2 733.5,145.3 737.5,147.6 741.5,149.8 745.5,151.8 749.5,153.5 753.5,155.2 757.5,156.9 761.5,159.2 765.5,160.9 769.5,162.5 773.5,164.7 777.5,166.5 781.5,168.6" fill="none" stroke="#006400" stroke-width="1"/>
<polyline points="1.5,200.2 5.5,198.3 9.5,197.1 13.5,195.9 17.5,196.9 21.5,197.4 25.5,197.5 29.5,197.6 33.5,198.1 37.5,199.0 41.5,200.5 45.5,201.8 49.5,203.5 53.5,204.9 57.5,206.3 61.5,207.6 65.5,208.7 69.5,210.0 73.5,211.2 77.5,212.6 81.5,213.9 85.5,215.4 89.5,216.4 93.5,218.0 97.5,220.0 101.5,221.6 105.5,223.8 109.5,225.3 113.5,227.1 117.5,228.0 121.5,227.9 125.5,226.5 129.5,225.1 133.5,223.2 137.5,221.8 141.5,219.8 145.5,217.7 149.5,215.1 153.5,212.9 157.5,210.5 161.5,208.1 165.5,206.3 169.5,204.2 173.5,202.5 177.5,200.8 181.5,198.9 185.5,197.5 189.5,195.7 193.5,194.7 197.5,194.3 201.5,194.7 205.5,193.7 209.5,191.6 213.5,188.9 217.5,184.8 221.5,181.4 225.5,178.5 229.5,175.6 233.5,172.3 237.5,169.7 241.5,167.1 245.5,164.6 249.5,162.5 253.5,161.2 257.5,159.3 261.5,157.3 265.5,155.1 269.5,153.3 273.5,151.8 277.5,150.1 281.5,148.1 285.5,145.8 289.5,143.2 293.5,140.5 297.5,137.5 301.5,135.2 305.5,131.9 309.5,128.6 313.5,124.8 317.5,122.8 321.5,121.0 325.5,120.0 329.5,118.9 333.5,118.0 337.5,118.2 341.5,117.4 345.5,116.3 349.5,115.0 353.5,113.8 357.5,112.4 361.5,111.0 365.5,109.6 369.5,108.2 373.5,105.6 377.5,103.3 381.5,101.5 385.5,99.8 389.5,97.8 393.5,95.8 397.5,93.5 401.5,93.1 405.5,93.2 409.5,93.7 413.5,94.3 417.5,95.6 421.5,97.7 425.5,99.5 429.5,101.5 433.5,103.5 437.5,104.9 441.5,106.5 445.5,107.5 449.5,108.6 453.5,110.0 457.5,111.3 461.5,112.8 465.5,115.1 469.5,117.3 473.5,119.2 477.5,121.1 481.5,122.6 485.5,124.3 489.5,126.2 493.5,125.5 497.5,125.2 501.5,125.1 505.5,125.3 509.5,125.0 513.5,125.8 517.5,126.0 521.5,124.6 525.5,121.8 529.5,119.0 533.5,116.3 537.5,114.2 541.5,111.6 545.5,110.1 549.5,109.1 553.5,108.3 557.5,107.2 561.5,105.8 565.5,105.2 569.5,104.9 573.5,104.5 577.5,103.6 581.5,103.2 585.5,102.7 589.5,102.3 593.5,102.0 597.5,100.0 601.5,98.9 605.5,97.6 609.5,96.4 613.5,96.8 617.5,97.1 621.5,97.2 625.5,97.6 629.5,97.7 633.5,97.2 637.5,96.5 641.5,95.8 645.5,95.2 649.5,94.8 653.5,94.4 657.5,94.5 661.5,94.9 665.5,96.3 669.5,98.5 673.5,101.2 677.5,103.4 681.5,105.3 685.5,108.8 689.5,113.1 693.5,118.1 697.5,122.5 701.5,126.0 705.5,130.3 709.5,134.8 713.5,138.9 717.5,142.5 721.5,146.5 725.5,149.7 729.5,152.7 733.5,155.3 737.5,158.0 741.5,160.6 745.5,162.9 749.5,164.9 753.5,166.8 757.5,168.7 761.5,171.4 765.5,173.3 769.5,175.0 773.5,177.6 777.5,179.5 781.5,181.8" fill="none" stroke="#00ced1" stroke-width="1"/>
<polyline points="1.5,163.8 5.5,163.3 9.5,163.4 13.5,163.8 17.5,165.7 21.5,168.1 25.5,170.0 29.5,171.5 33.5,173.6 37.5,175.9 41.5,178.6 45.5,181.6 49.5,184.8 53.5,187.9 57.5,190.7 61.5,193.6 65.5,196.2 69.5,199.0 73.5,202.1 77.5,205.2 81.5,208.3 85.5,211.5 89.5,214.6 93.5,217.8 97.5,223.1 101.5,228.6 105.5,233.5 109.5,238.3 113.5,241.5 117.5,243.9 121.5,245.5 125.5,245.7 129.5,245.2 133.5,244.0 137.5,242.5 141.5,240.2 145.5,237.5 149.5,234.1 153.5,230.7 157.5,227.4 161.5,223.9 165.5,219.8 169.5,215.5 173.5,211.2 177.5,206.2 181.5,200.1 185.5,196.4 189.5,192.5 193.5,187.9 197.5,184.9 201.5,182.3 205.5,178.6 209.5,173.5 213.5,167.2 217.5,160.9 221.5,155.7 225.5,151.7 229.5,148.1 233.5,144.1 237.5,140.9 241.5,137.8 245.5,135.7 249.5,133.6 253.5,132.0 257.5,130.5 261.5,128.6 265.5,126.2 269.5,123.9 273.5,121.9 277.5,119.8 281.5,117.1 285.5,114.0 289.5,110.6 293.5,106.0 297.5,100.8 301.5,96.3 305.5,92.7 309.5,89.2 313.5,86.4 317.5,84.7 321.5,84.1 325.5,83.7 329.5,84.2 333.5,84.5 337.5,85.6 341.5,85.4 345.5,85.0 349.5,83.5 353.5,82.2 357.5,81.0 361.5,80.0 365.5,78.7 369.5,76.9 373.5,74.7 377.5,72.3 381.5,70.7 385.5,69.3 389.5,68.1 393.5,67.1 397.5,65.7 401.5,65.2 405.5,66.9 409.5,69.3 413.5,71.3 417.5,72.6 421.5,75.6 425.5,77.8 429.5,79.9 433.5,81.5 437.5,83.4 441.5,85.5 445.5,88.1 449.5,90.6 453.5,94.0 457.5,98.0 461.5,102.1 465.5,106.2 469.5,111.2 473.5,116.8 477.5,121.9 481.5,126.9 485.5,132.1 489.5,137.6 493.5,142.1 497.5,144.0 501.5,145.6 505.5,146.5 509.5,147.3 513.5,148.0 517.5,147.5 521.5,145.6 525.5,142.2 529.5,137.7 533.5,133.0 537.5,129.3 541.5,125.9 545.5,122.7 549.5,120.1 553.5,117.3 557.5,114.4 561.5,110.8 565.5,107.0 569.5,104.1 573.5,101.0 577.5,97.9 581.5,94.7 585.5,91.0 589.5,89.1 593.5,88.2 597.5,85.9 601.5,83.4 605.5,81.2 609.5,78.8 613.5,76.5 617.5,75.6 621.5,75.8 625.5,76.2 629.5,78.1 633.5,79.4 637.5,80.7 641.5,82.1 645.5,82.3 649.5,83.6 653.5,84.0 657.5,84.8 661.5,85.9 665.5,87.1 669.5,89.8 673.5,93.1 677.5,96.4 681.5,99.3 685.5,102.3 689.5,108.2 693.5,115.2 697.5,122.6 701.5,128.7 705.5,134.6 709.5,141.3 713.5,147.7 717.5,153.7 721.5,160.1 725.5,166.6 729.5,173.1 733.5,179.7 737.5,186.4 741.5,193.8 745.5,200.6 749.5,207.1 753.5,212.7 757.5,217.8 761.5,222.1 765.5,224.7 769.5,226.3 773.5,228.3 777.5,231.3 781.5,233.6" fill="none" stroke="#00ff00" stroke-width="1"/>
<polyline points="1.5,163.0 5.5,159.8 9.5,160.8 13.5,161.1 17.5,173.0 21.5,179.8 25.5,183.6 29.5,186.3 33.5,190.9 37.5,197.0 41.5,204.7 45.5,210.9 49.5,217.9 53.5,222.4 57.5,226.0 61.5,229.0 65.5,230.7 69.5,233.6 73.5,235.6 77.5,238.1 81.5,240.2 85.5,242.8 89.5,242.9 93.5,246.5 97.5,251.6 101.5,253.6 105.5,259.0 109.5,260.5 113.5,263.1 117.5,261.3 121.5,254.6 125.5,242.8 129.5,232.6 133.5,221.6 137.5,214.7 141.5,205.9 145.5,197.5 149.5,188.2 153.5,181.7 157.5,175.3 161.5,169.2 165.5,167.4 169.5,163.6 173.5,162.5 177.5,160.9 181.5,158.4 185.5,159.0 189.5,156.5 193.5,158.7 197.5,163.2 201.5,171.1 205.5,169.9 209.5,163.6 213.5,155.1 217.5,140.4 221.5,131.0 225.5,125.6 229.5,120.3 233.5,113.8 237.5,110.8 241.5,108.4 245.5,106.4 249.5,106.1 253.5,110.2 257.5,109.7 261.5,108.2 265.5,106.2 269.5,105.9 273.5,106.6 277.5,106.2 281.5,104.1 285.5,100.3 289.5,95.3 293.5,90.2 297.5,84.3 301.5,82.3 305.5,75.3 309.5,68.4 313.5,60.4 317.5,61.5 321.5,63.9 325.5,69.1 329.5,72.4 333.5,76.4 337.5,85.2 341.5,87.2 345.5,87.1 349.5,85.5 353.5,85.0 357.5,82.7 361.5,81.2 365.5,79.3 369.5,77.7 373.5,70.0 377.5,65.0 381.5,62.7 385.5,61.1 389.5,58.0 393.5,55.0 397.5,50.6 401.5,56.4 405.5,63.7 409.5,71.6 413.5,78.9 417.5,88.1 421.5,100.3 425.5,108.7 429.5,117.2 433.5,124.6 437.5,128.2 441.5,132.1 445.5,132.3 449.5,133.4 453.5,136.0 457.5,138.1 461.5,140.9 465.5,147.4 469.5,152.8 473.5,155.9 477.5,159.1 481.5,159.7 485.5,161.5 489.5,164.2 493.5,154.1 497.5,147.1 501.5,143.0 505.5,140.5 509.5,136.2 513.5,138.0 517.5,136.8 521.5,127.9 525.5,113.1 529.5,100.6 533.5,90.2 537.5,84.3 541.5,76.5 545.5,75.2 549.5,76.5 553.5,78.2 557.5,78.1 561.5,76.1 565.5,78.4 569.5,81.7 573.5,84.0 577.5,83.0 581.5,84.9 585.5,85.6 589.5,86.8 593.5,88.0 597.5,80.3 601.5,78.2 605.5,75.5 609.5,73.5 613.5,79.5 617.5,84.2 621.5,87.4 625.5,91.0 629.5,92.7 633.5,90.9 637.5,88.8 641.5,86.4 645.5,85.0 649.5,84.9 653.5,84.8 657.5,86.8 661.5,90.2 665.5,98.4 669.5,109.3 673.5,120.8 677.5,128.8 681.5,133.4 685.5,146.4 689.5,161.3 693.5,177.9 697.5,189.8 701.5,195.0 705.5,204.4 709.5,214.2 713.5,220.5 717.5,223.7 721.5,229.3 725.5,231.0 729.5,231.3 733.5,230.0 737.5,230.3 741.5,230.5 745.5,229.6 749.5,227.4 753.5,225.8 757.5,224.8 761.5,228.0 765.5,227.6 769.5,226.5 773.5,230.1 777.5,230.2 781.5,233.2" fill="none" stroke="#ff0000" stroke-width="1"/>
</g>
<g clip-path="url(#cmacd)">
<text transform="translate(5,337) scale(1,1.0000)" fill="#000" font-size="9.6" textLength="215" lengthAdjust="spacingAndGlyphs" stroke="#000" stroke-width="0.2" style="will-change:transform">MACD(12,26,9) -0.00148 -0.00175 0.00034 0.00000</text>
<rect x="1" y="357" width="1" height="1" fill="#ff0000"/>
<rect x="5" y="356" width="1" height="2" fill="#ff0000"/>
<rect x="9" y="357" width="1" height="1" fill="#ff0000"/>
<rect x="13" y="357" width="1" height="1" fill="#ff0000"/>
<rect x="17" y="359" width="1" height="6" fill="#008000"/>
<rect x="21" y="359" width="1" height="8" fill="#008000"/>
<rect x="25" y="359" width="1" height="9" fill="#008000"/>
<rect x="29" y="359" width="1" height="10" fill="#008000"/>
<rect x="33" y="359" width="1" height="11" fill="#008000"/>
<rect x="37" y="359" width="1" height="13" fill="#008000"/>
<rect x="41" y="359" width="1" height="14" fill="#008000"/>
<rect x="45" y="359" width="1" height="14" fill="#008000"/>
<rect x="49" y="359" width="1" height="14" fill="#008000"/>
<rect x="53" y="359" width="1" height="12" fill="#008000"/>
<rect x="57" y="359" width="1" height="10" fill="#008000"/>
<rect x="61" y="359" width="1" height="9" fill="#008000"/>
<rect x="65" y="359" width="1" height="6" fill="#008000"/>
<rect x="69" y="359" width="1" height="5" fill="#008000"/>
<rect x="73" y="359" width="1" height="3" fill="#008000"/>
<rect x="77" y="359" width="1" height="2" fill="#008000"/>
<rect x="81" y="359" width="1" height="1" fill="#008000"/>
<rect x="85" y="359" width="1" height="1" fill="#008000"/>
<rect x="89" y="357" width="1" height="1" fill="#ff0000"/>
<rect x="97" y="359" width="1" height="1" fill="#008000"/>
<rect x="101" y="359" width="1" height="1" fill="#008000"/>
<rect x="105" y="359" width="1" height="2" fill="#008000"/>
<rect x="109" y="359" width="1" height="1" fill="#008000"/>
<rect x="113" y="359" width="1" height="1" fill="#008000"/>
<rect x="117" y="357" width="1" height="1" fill="#ff0000"/>
<rect x="121" y="353" width="1" height="5" fill="#ff0000"/>
<rect x="125" y="346" width="1" height="12" fill="#ff0000"/>
<rect x="129" y="342" width="1" height="16" fill="#ff0000"/>
<rect x="133" y="338" width="1" height="20" fill="#ff0000"/>
<rect x="137" y="338" width="1" height="20" fill="#ff0000"/>
<rect x="141" y="337" width="1" height="21" fill="#ff0000"/>
<rect x="145" y="336" width="1" height="22" fill="#ff0000"/>
<rect x="149" y="337" width="1" height="21" fill="#ff0000"/>
<rect x="153" y="339" width="1" height="19" fill="#ff0000"/>
<rect x="157" y="341" width="1" height="17" fill="#ff0000"/>
<rect x="161" y="343" width="1" height="15" fill="#ff0000"/>
<rect x="165" y="347" width="1" height="11" fill="#ff0000"/>
<rect x="169" y="350" width="1" height="8" fill="#ff0000"/>
<rect x="173" y="353" width="1" height="5" fill="#ff0000"/>
<rect x="177" y="355" width="1" height="3" fill="#ff0000"/>
<rect x="181" y="357" width="1" height="1" fill="#ff0000"/>
<rect x="185" y="359" width="1" height="1" fill="#008000"/>
<rect x="189" y="359" width="1" height="2" fill="#008000"/>
<rect x="193" y="359" width="1" height="4" fill="#008000"/>
<rect x="197" y="359" width="1" height="7" fill="#008000"/>
<rect x="201" y="359" width="1" height="11" fill="#008000"/>
<rect x="205" y="359" width="1" height="10" fill="#008000"/>
<rect x="209" y="359" width="1" height="6" fill="#008000"/>
<rect x="213" y="359" width="1" height="2" fill="#008000"/>
<rect x="217" y="353" width="1" height="5" fill="#ff0000"/>
<rect x="221" y="349" width="1" height="9" fill="#ff0000"/>
<rect x="225" y="349" width="1" height="9" fill="#ff0000"/>
<rect x="229" y="348" width="1" height="10" fill="#ff0000"/>
<rect x="233" y="348" width="1" height="10" fill="#ff0000"/>
<rect x="237" y="349" width="1" height="9" fill="#ff0000"/>
<rect x="241" y="352" width="1" height="6" fill="#ff0000"/>
<rect x="245" y="355" width="1" height="3" fill="#ff0000"/>
<rect x="253" y="359" width="1" height="4" fill="#008000"/>
<rect x="257" y="359" width="1" height="6" fill="#008000"/>
<rect x="261" y="359" width="1" height="6" fill="#008000"/>
<rect x="265" y="359" width="1" height="6" fill="#008000"/>
<rect x="269" y="359" width="1" height="6" fill="#008000"/>
<rect x="273" y="359" width="1" height="6" fill="#008000"/>
<rect x="277" y="359" width="1" height="6" fill="#008000"/>
<rect x="281" y="359" width="1" height="5" fill="#008000"/>
<rect x="285" y="359" width="1" height="3" fill="#008000"/>
<rect x="289" y="359" width="1" height="1" fill="#008000"/>
<rect x="293" y="357" width="1" height="1" fill="#ff0000"/>
<rect x="297" y="355" width="1" height="3" fill="#ff0000"/>
<rect x="301" y="355" width="1" height="3" fill="#ff0000"/>
<rect x="305" y="353" width="1" height="5" fill="#ff0000"/>
<rect x="309" y="352" width="1" height="6" fill="#ff0000"/>
<rect x="313" y="351" width="1" height="7" fill="#ff0000"/>
<rect x="317" y="354" width="1" height="4" fill="#ff0000"/>
<rect x="321" y="357" width="1" height="1" fill="#ff0000"/>
<rect x="325" y="359" width="1" height="4" fill="#008000"/>
<rect x="329" y="359" width="1" height="7" fill="#008000"/>
<rect x="333" y="359" width="1" height="9" fill="#008000"/>
<rect x="337" y="359" width="1" height="14" fill="#008000"/>
<rect x="341" y="359" width="1" height="14" fill="#008000"/>
<rect x="345" y="359" width="1" height="12" fill="#008000"/>
<rect x="349" y="359" width="1" height="10" fill="#008000"/>
<rect x="353" y="359" width="1" height="8" fill="#008000"/>
<rect x="357" y="359" width="1" height="5" fill="#008000"/>
<rect x="361" y="359" width="1" height="3" fill="#008000"/>
<rect x="365" y="359" width="1" height="1" fill="#008000"/>
<rect x="373" y="354" width="1" height="4" fill="#ff0000"/>
<rect x="377" y="352" width="1" height="6" fill="#ff0000"/>
<rect x="381" y="353" width="1" height="5" fill="#ff0000"/>
<rect x="385" y="353" width="1" height="5" fill="#ff0000"/>
<rect x="389" y="354" width="1" height="4" fill="#ff0000"/>
<rect x="393" y="354" width="1" height="4" fill="#ff0000"/>
<rect x="397" y="353" width="1" height="5" fill="#ff0000"/>
<rect x="405" y="359" width="1" height="5" fill="#008000"/>
<rect x="409" y="359" width="1" height="9" fill="#008000"/>
<rect x="413" y="359" width="1" height="12" fill="#008000"/>
<rect x="417" y="359" width="1" height="15" fill="#008000"/>
<rect x="421" y="359" width="1" height="19" fill="#008000"/>
<rect x="425" y="359" width="1" height="20" fill="#008000"/>
<rect x="429" y="359" width="1" height="20" fill="#008000"/>
<rect x="433" y="359" width="1" height="19" fill="#008000"/>
<rect x="437" y="359" width="1" height="16" fill="#008000"/>
<rect x="441" y="359" width="1" height="13" fill="#008000"/>
<rect x="445" y="359" width="1" height="9" fill="#008000"/>
<rect x="449" y="359" width="1" height="5" fill="#008000"/>
<rect x="453" y="359" width="1" height="3" fill="#008000"/>
<rect x="457" y="359" width="1" height="1" fill="#008000"/>
<rect x="461" y="359" width="1" height="1" fill="#008000"/>
<rect x="465" y="359" width="1" height="2" fill="#008000"/>
<rect x="469" y="359" width="1" height="3" fill="#008000"/>
<rect x="473" y="359" width="1" height="2" fill="#008000"/>
<rect x="477" y="359" width="1" height="2" fill="#008000"/>
<rect x="481" y="359" width="1" height="1" fill="#008000"/>
<rect x="493" y="351" width="1" height="7" fill="#ff0000"/>
<rect x="497" y="348" width="1" height="10" fill="#ff0000"/>
<rect x="501" y="346" width="1" height="12" fill="#ff0000"/>
<rect x="505" y="345" width="1" height="13" fill="#ff0000"/>
<rect x="509" y="345" width="1" height="13" fill="#ff0000"/>
<rect x="513" y="347" width="1" height="11" fill="#ff0000"/>
<rect x="517" y="348" width="1" height="10" fill="#ff0000"/>
<rect x="521" y="346" width="1" height="12" fill="#ff0000"/>
<rect x="525" y="341" width="1" height="17" fill="#ff0000"/>
<rect x="529" y="339" width="1" height="19" fill="#ff0000"/>
<rect x="533" y="338" width="1" height="20" fill="#ff0000"/>
<rect x="537" y="339" width="1" height="19" fill="#ff0000"/>
<rect x="541" y="340" width="1" height="18" fill="#ff0000"/>
<rect x="545" y="343" width="1" height="15" fill="#ff0000"/>
<rect x="549" y="348" width="1" height="10" fill="#ff0000"/>
<rect x="553" y="353" width="1" height="5" fill="#ff0000"/>
<rect x="557" y="357" width="1" height="1" fill="#ff0000"/>
<rect x="561" y="359" width="1" height="1" fill="#008000"/>
<rect x="565" y="359" width="1" height="4" fill="#008000"/>
<rect x="569" y="359" width="1" height="6" fill="#008000"/>
<rect x="573" y="359" width="1" height="8" fill="#008000"/>
<rect x="577" y="359" width="1" height="7" fill="#008000"/>
<rect x="581" y="359" width="1" height="7" fill="#008000"/>
<rect x="585" y="359" width="1" height="7" fill="#008000"/>
<rect x="589" y="359" width="1" height="7" fill="#008000"/>
<rect x="593" y="359" width="1" height="6" fill="#008000"/>
<rect x="597" y="359" width="1" height="2" fill="#008000"/>
<rect x="605" y="357" width="1" height="1" fill="#ff0000"/>
<rect x="609" y="356" width="1" height="2" fill="#ff0000"/>
<rect x="613" y="359" width="1" height="2" fill="#008000"/>
<rect x="617" y="359" width="1" height="4" fill="#008000"/>
<rect x="621" y="359" width="1" height="6" fill="#008000"/>
<rect x="625" y="359" width="1" height="7" fill="#008000"/>
<rect x="629" y="359" width="1" height="7" fill="#008000"/>
<rect x="633" y="359" width="1" height="6" fill="#008000"/>
<rect x="637" y="359" width="1" height="4" fill="#008000"/>
<rect x="641" y="359" width="1" height="2" fill="#008000"/>
<rect x="653" y="357" width="1" height="1" fill="#ff0000"/>
<rect x="661" y="359" width="1" height="2" fill="#008000"/>
<rect x="665" y="359" width="1" height="6" fill="#008000"/>
<rect x="669" y="359" width="1" height="10" fill="#008000"/>
<rect x="673" y="359" width="1" height="14" fill="#008000"/>
<rect x="677" y="359" width="1" height="16" fill="#008000"/>
<rect x="681" y="359" width="1" height="15" fill="#008000"/>
<rect x="685" y="359" width="1" height="18" fill="#008000"/>
<rect x="689" y="359" width="1" height="21" fill="#008000"/>
<rect x="693" y="359" width="1" height="23" fill="#008000"/>
<rect x="697" y="359" width="1" height="23" fill="#008000"/>
<rect x="701" y="359" width="1" height="19" fill="#008000"/>
<rect x="705" y="359" width="1" height="17" fill="#008000"/>
<rect x="709" y="359" width="1" height="16" fill="#008000"/>
<rect x="713" y="359" width="1" height="13" fill="#008000"/>
<rect x="717" y="359" width="1" height="9" fill="#008000"/>
<rect x="721" y="359" width="1" height="6" fill="#008000"/>
<rect x="725" y="359" width="1" height="2" fill="#008000"/>
<rect x="729" y="356" width="1" height="2" fill="#ff0000"/>
<rect x="733" y="352" width="1" height="6" fill="#ff0000"/>
<rect x="737" y="350" width="1" height="8" fill="#ff0000"/>
<rect x="741" y="349" width="1" height="9" fill="#ff0000"/>
<rect x="745" y="347" width="1" height="11" fill="#ff0000"/>
<rect x="749" y="346" width="1" height="12" fill="#ff0000"/>
<rect x="753" y="345" width="1" height="13" fill="#ff0000"/>
<rect x="757" y="345" width="1" height="13" fill="#ff0000"/>
<rect x="761" y="348" width="1" height="10" fill="#ff0000"/>
<rect x="765" y="348" width="1" height="10" fill="#ff0000"/>
<rect x="769" y="349" width="1" height="9" fill="#ff0000"/>
<rect x="773" y="351" width="1" height="7" fill="#ff0000"/>
<rect x="777" y="352" width="1" height="6" fill="#ff0000"/>
<rect x="781" y="353" width="1" height="5" fill="#ff0000"/>
<polyline points="1.5,345.5 5.5,344.8 9.5,346.2 13.5,347.1 17.5,353.6 21.5,357.3 25.5,359.4 29.5,360.8 33.5,363.0 37.5,365.8 41.5,369.2 45.5,371.7 49.5,374.5 53.5,375.8 57.5,376.7 61.5,377.1 65.5,376.9 69.5,377.2 73.5,377.1 77.5,377.2 81.5,377.1 85.5,377.2 89.5,376.1 93.5,376.7 97.5,378.1 101.5,377.8 105.5,379.2 109.5,378.7 113.5,378.7 117.5,376.6 121.5,372.2 125.5,365.5 129.5,360.0 133.5,354.4 137.5,351.0 141.5,347.0 145.5,343.3 149.5,339.5 153.5,337.2 157.5,335.2 161.5,333.4 165.5,333.9 169.5,333.4 173.5,334.2 177.5,334.8 181.5,335.0 185.5,336.7 189.5,336.8 193.5,339.2 197.5,342.5 201.5,347.4 205.5,347.6 209.5,345.4 213.5,342.1 217.5,336.1 221.5,332.9 225.5,331.7 229.5,330.7 233.5,329.2 237.5,329.5 241.5,330.0 245.5,330.7 249.5,332.2 253.5,335.8 257.5,337.0 261.5,337.7 265.5,338.1 269.5,339.3 273.5,340.8 277.5,341.8 281.5,341.9 285.5,341.2 289.5,339.9 293.5,338.6 297.5,337.0 301.5,337.3 305.5,335.2 309.5,333.3 313.5,331.0 317.5,333.1 321.5,335.8 325.5,339.7 329.5,342.5 333.5,345.5 337.5,350.7 341.5,352.3 345.5,352.8 349.5,352.6 353.5,352.8 357.5,352.1 361.5,351.9 365.5,351.4 369.5,351.1 373.5,347.9 377.5,346.1 381.5,345.7 385.5,345.6 389.5,344.9 393.5,344.3 397.5,343.0 401.5,346.6 405.5,350.9 409.5,355.2 413.5,359.0 417.5,363.6 421.5,369.3 425.5,372.9 429.5,376.4 433.5,379.0 437.5,379.8 441.5,380.5 445.5,379.4 449.5,378.8 453.5,378.9 457.5,378.7 461.5,378.8 465.5,380.7 469.5,382.0 473.5,382.0 477.5,382.1 481.5,381.0 485.5,380.5 489.5,380.4 493.5,374.2 497.5,369.7 501.5,366.9 505.5,365.0 509.5,362.3 513.5,362.7 517.5,361.7 521.5,357.1 525.5,349.9 529.5,344.1 533.5,339.7 537.5,337.7 541.5,334.9 545.5,335.5 549.5,337.3 553.5,339.3 557.5,340.3 561.5,340.4 565.5,342.6 569.5,345.1 573.5,347.1 577.5,347.4 581.5,349.0 585.5,350.0 589.5,351.2 593.5,352.3 597.5,349.0 601.5,348.6 605.5,347.9 609.5,347.6 613.5,351.1 617.5,353.9 621.5,355.8 625.5,357.8 629.5,358.7 633.5,357.9 637.5,357.0 641.5,356.0 645.5,355.5 649.5,355.6 653.5,355.7 657.5,356.8 661.5,358.6 665.5,362.6 669.5,367.6 673.5,372.7 677.5,375.9 681.5,377.2 685.5,382.5 689.5,388.4 693.5,394.7 697.5,398.5 701.5,398.9 705.5,401.1 709.5,403.4 713.5,403.8 717.5,402.8 721.5,402.8 725.5,401.0 729.5,398.5 733.5,395.4 737.5,393.2 741.5,391.0 745.5,388.5 749.5,385.4 753.5,382.8 757.5,380.6 761.5,380.6 765.5,378.8 769.5,376.9 773.5,377.3 777.5,376.0 781.5,376.2" fill="none" stroke="#0000ff" stroke-width="1"/>
<polyline points="1.5,346.1 5.5,346.8 9.5,347.3 13.5,347.7 17.5,348.0 21.5,348.8 25.5,349.9 29.5,351.0 33.5,352.0 37.5,353.1 41.5,355.3 45.5,358.0 49.5,360.9 53.5,363.9 57.5,366.4 61.5,368.5 65.5,370.5 69.5,372.3 73.5,373.9 77.5,375.1 81.5,376.0 85.5,376.6 89.5,376.9 93.5,377.0 97.5,377.0 101.5,377.1 105.5,377.2 109.5,377.4 113.5,377.6 117.5,377.7 121.5,377.7 125.5,377.1 129.5,375.9 133.5,374.1 137.5,371.5 141.5,368.5 145.5,364.9 149.5,361.0 153.5,356.6 157.5,352.2 161.5,348.1 165.5,344.6 169.5,341.7 173.5,339.3 177.5,337.5 181.5,336.1 185.5,335.2 189.5,334.9 193.5,334.8 197.5,335.2 201.5,336.3 205.5,337.8 209.5,339.3 213.5,340.6 217.5,341.4 221.5,341.5 225.5,341.1 229.5,340.5 233.5,339.6 237.5,338.1 241.5,336.1 245.5,334.2 249.5,332.5 253.5,331.5 257.5,331.4 261.5,331.9 265.5,332.5 269.5,333.4 273.5,334.5 277.5,335.8 281.5,337.1 285.5,338.3 289.5,339.3 293.5,339.8 297.5,339.9 301.5,339.9 305.5,339.8 309.5,339.3 313.5,338.5 317.5,337.3 321.5,336.3 325.5,335.7 329.5,335.7 333.5,336.1 337.5,337.1 341.5,338.5 345.5,340.4 349.5,342.6 353.5,345.0 357.5,347.2 361.5,349.0 365.5,350.4 369.5,351.3 373.5,352.0 377.5,351.6 381.5,351.0 385.5,350.2 389.5,349.4 393.5,348.5 397.5,347.7 401.5,346.7 405.5,346.1 409.5,346.1 413.5,346.9 417.5,348.4 421.5,350.4 425.5,353.0 429.5,356.1 433.5,359.7 437.5,363.7 441.5,367.4 445.5,370.6 449.5,373.3 453.5,375.5 457.5,377.2 461.5,378.3 465.5,378.9 469.5,379.4 473.5,379.7 477.5,380.0 481.5,380.1 485.5,380.3 489.5,380.5 493.5,380.7 497.5,380.2 501.5,379.2 505.5,377.6 509.5,375.7 513.5,373.6 517.5,371.4 521.5,369.3 525.5,366.7 529.5,363.3 533.5,359.9 537.5,356.6 541.5,353.4 545.5,350.0 549.5,347.1 553.5,344.2 557.5,341.7 561.5,339.9 565.5,338.8 569.5,338.6 573.5,339.2 577.5,340.3 581.5,341.7 585.5,343.2 589.5,344.6 593.5,345.9 597.5,347.2 601.5,348.2 605.5,348.9 609.5,349.2 613.5,349.2 617.5,349.6 621.5,350.2 625.5,350.8 629.5,351.6 633.5,352.3 637.5,353.3 641.5,354.2 645.5,355.1 649.5,356.0 653.5,356.5 657.5,356.7 661.5,356.8 665.5,356.9 669.5,357.3 673.5,358.4 677.5,360.1 681.5,362.3 685.5,364.8 689.5,367.7 693.5,371.4 697.5,375.6 701.5,380.0 705.5,384.0 709.5,387.8 713.5,391.2 717.5,394.3 721.5,397.1 725.5,399.4 729.5,400.8 733.5,401.2 737.5,400.9 741.5,400.2 745.5,399.1 749.5,397.5 753.5,395.4 757.5,393.2 761.5,390.7 765.5,388.4 769.5,386.3 773.5,384.2 777.5,382.4 781.5,380.7" fill="none" stroke="#ff0000" stroke-width="1"/>
</g>
<g clip-path="url(#crsi)">
<text transform="translate(5,424) scale(1,1.0000)" fill="#000" font-size="9.6" textLength="68" lengthAdjust="spacingAndGlyphs" stroke="#000" stroke-width="0.2" style="will-change:transform">RSI(14) 39.9577</text>
<polyline points="1.5,433.8 5.5,436.1 9.5,441.9 13.5,441.2 17.5,453.0 21.5,449.5 25.5,447.4 29.5,447.0 33.5,449.1 37.5,451.0 41.5,453.1 45.5,452.8 49.5,454.3 53.5,452.4 57.5,452.4 61.5,452.4 65.5,451.2 69.5,452.6 73.5,452.0 77.5,452.9 81.5,452.9 85.5,454.0 89.5,449.8 93.5,453.7 97.5,455.7 101.5,451.6 105.5,455.1 109.5,450.4 113.5,451.6 117.5,446.2 121.5,440.5 125.5,435.4 129.5,435.1 133.5,433.4 137.5,435.8 141.5,433.7 145.5,432.9 149.5,431.4 153.5,432.9 157.5,432.2 161.5,431.5 165.5,436.2 169.5,434.4 173.5,437.0 177.5,436.4 181.5,435.5 185.5,439.0 189.5,436.3 193.5,441.4 197.5,444.2 201.5,448.0 205.5,441.0 209.5,437.4 213.5,435.4 217.5,431.6 221.5,434.0 225.5,436.1 229.5,435.6 233.5,434.4 237.5,436.7 241.5,436.7 245.5,436.7 249.5,438.1 253.5,442.5 257.5,439.5 261.5,438.6 265.5,438.1 269.5,439.5 273.5,440.5 277.5,439.7 281.5,438.0 285.5,436.3 289.5,434.7 293.5,433.9 297.5,432.6 301.5,436.8 305.5,432.7 309.5,432.0 313.5,430.5 317.5,439.7 321.5,441.1 325.5,444.1 329.5,443.3 333.5,444.5 337.5,449.0 341.5,444.2 345.5,442.7 349.5,441.5 353.5,442.2 357.5,440.6 361.5,441.0 365.5,440.3 369.5,440.3 373.5,434.9 377.5,436.5 381.5,438.7 385.5,438.9 389.5,437.4 393.5,436.9 397.5,435.1 401.5,445.8 405.5,447.9 409.5,449.5 413.5,450.0 417.5,452.4 421.5,455.3 425.5,453.3 429.5,454.3 433.5,454.6 437.5,451.5 441.5,452.2 445.5,448.5 449.5,449.3 453.5,450.7 457.5,450.7 461.5,451.6 465.5,455.0 469.5,455.1 473.5,452.7 477.5,453.4 481.5,450.2 485.5,451.4 489.5,452.6 493.5,438.5 497.5,439.8 501.5,441.5 505.5,442.5 509.5,440.3 513.5,445.6 517.5,443.0 521.5,437.0 525.5,433.0 529.5,432.8 533.5,432.7 537.5,435.4 541.5,433.7 545.5,438.7 549.5,440.8 553.5,441.3 557.5,440.1 561.5,438.8 565.5,442.4 569.5,443.7 573.5,443.3 577.5,440.7 581.5,443.4 585.5,442.5 589.5,443.3 593.5,443.5 597.5,436.0 601.5,440.3 605.5,439.6 609.5,439.7 613.5,446.6 617.5,446.4 621.5,445.7 625.5,446.6 629.5,445.3 633.5,442.0 637.5,441.5 641.5,440.8 645.5,441.5 649.5,442.8 653.5,442.8 657.5,445.3 661.5,447.4 665.5,452.5 669.5,455.4 673.5,457.0 677.5,454.9 681.5,452.3 685.5,457.7 689.5,459.6 693.5,461.2 697.5,459.2 701.5,454.0 705.5,456.4 709.5,457.4 713.5,455.4 717.5,453.4 721.5,455.0 725.5,451.9 729.5,450.7 733.5,449.2 737.5,450.1 741.5,450.1 745.5,448.9 749.5,447.2 753.5,447.3 757.5,447.7 761.5,451.3 765.5,447.4 769.5,446.5 773.5,450.6 777.5,447.1 781.5,449.5" fill="none" stroke="#1e90ff" stroke-width="1"/>
</g>
<line x1="0.5" y1="0" x2="0.5" y2="476" stroke="#000"/>
<line x1="0" y1="321.5" x2="791" y2="321.5" stroke="#000"/>
<line x1="0" y1="323.5" x2="791" y2="323.5" stroke="#000"/>
<line x1="0" y1="408.5" x2="791" y2="408.5" stroke="#000"/>
<line x1="0" y1="410.5" x2="791" y2="410.5" stroke="#000"/>
<line x1="0" y1="475.5" x2="791" y2="475.5" stroke="#000"/>
<line x1="790.5" y1="0" x2="790.5" y2="322" stroke="#000"/>
<line x1="790.5" y1="323" x2="790.5" y2="409" stroke="#000"/>
<line x1="790.5" y1="410" x2="790.5" y2="476" stroke="#000"/>
<line x1="830.5" y1="0" x2="830.5" y2="491" stroke="#0a246a"/>
<line x1="791" y1="16.5" x2="793" y2="16.5" stroke="#000"/>
<text transform="translate(796.5,19) scale(1,1.0000)" fill="#000" font-size="9.6" textLength="27" lengthAdjust="spacingAndGlyphs" stroke="#000" stroke-width="0.2" style="will-change:transform">1.1275</text>
<line x1="791" y1="49.5" x2="793" y2="49.5" stroke="#000"/>
<text transform="translate(796.5,52) scale(1,1.0000)" fill="#000" font-size="9.6" textLength="27" lengthAdjust="spacingAndGlyphs" stroke="#000" stroke-width="0.2" style="will-change:transform">1.1245</text>
<line x1="791" y1="83.5" x2="793" y2="83.5" stroke="#000"/>
<text transform="translate(796.5,86) scale(1,1.0000)" fill="#000" font-size="9.6" textLength="27" lengthAdjust="spacingAndGlyphs" stroke="#000" stroke-width="0.2" style="will-change:transform">1.1215</text>
<line x1="791" y1="116.5" x2="793" y2="116.5" stroke="#000"/>
<text transform="translate(796.5,119) scale(1,1.0000)" fill="#000" font-size="9.6" textLength="27" lengthAdjust="spacingAndGlyphs" stroke="#000" stroke-width="0.2" style="will-change:transform">1.1185</text>
<line x1="791" y1="149.5" x2="793" y2="149.5" stroke="#000"/>
<text transform="translate(796.5,152) scale(1,1.0000)" fill="#000" font-size="9.6" textLength="27" lengthAdjust="spacingAndGlyphs" stroke="#000" stroke-width="0.2" style="will-change:transform">1.1155</text>
<line x1="791" y1="183.5" x2="793" y2="183.5" stroke="#000"/>
<text transform="translate(796.5,186) scale(1,1.0000)" fill="#000" font-size="9.6" textLength="27" lengthAdjust="spacingAndGlyphs" stroke="#000" stroke-width="0.2" style="will-change:transform">1.1125</text>
<line x1="791" y1="216.5" x2="793" y2="216.5" stroke="#000"/>
<text transform="translate(796.5,219) scale(1,1.0000)" fill="#000" font-size="9.6" textLength="27" lengthAdjust="spacingAndGlyphs" stroke="#000" stroke-width="0.2" style="will-change:transform">1.1095</text>
<line x1="791" y1="249.5" x2="793" y2="249.5" stroke="#000"/>
<text transform="translate(796.5,252) scale(1,1.0000)" fill="#000" font-size="9.6" textLength="27" lengthAdjust="spacingAndGlyphs" stroke="#000" stroke-width="0.2" style="will-change:transform">1.1065</text>
<line x1="791" y1="283.5" x2="793" y2="283.5" stroke="#000"/>
<text transform="translate(796.5,286) scale(1,1.0000)" fill="#000" font-size="9.6" textLength="27" lengthAdjust="spacingAndGlyphs" stroke="#000" stroke-width="0.2" style="will-change:transform">1.1035</text>
<line x1="791" y1="316.5" x2="793" y2="316.5" stroke="#000"/>
<text transform="translate(796.5,319) scale(1,1.0000)" fill="#000" font-size="9.6" textLength="27" lengthAdjust="spacingAndGlyphs" stroke="#000" stroke-width="0.2" style="will-change:transform">1.1005</text>
<rect x="793" y="-3" width="34" height="11" fill="#960000"/>
<text transform="translate(796.5,6) scale(1,1.0000)" fill="#fff" font-size="9.6" textLength="27" lengthAdjust="spacingAndGlyphs" stroke="#fff" stroke-width="0.2" style="will-change:transform">1.1286</text>
<rect x="793" y="122" width="34" height="11" fill="#960000"/>
<text transform="translate(796.5,131) scale(1,1.0000)" fill="#fff" font-size="9.6" textLength="27" lengthAdjust="spacingAndGlyphs" stroke="#fff" stroke-width="0.2" style="will-change:transform">1.1173</text>
<rect x="793" y="188" width="34" height="11" fill="#000"/>
<text transform="translate(796.5,197) scale(1,1.0000)" fill="#fff" font-size="9.6" textLength="27" lengthAdjust="spacingAndGlyphs" stroke="#fff" stroke-width="0.2" style="will-change:transform">1.1114</text>
<rect x="793" y="240" width="34" height="11" fill="#000"/>
<text transform="translate(796.5,249) scale(1,1.0000)" fill="#fff" font-size="9.6" textLength="27" lengthAdjust="spacingAndGlyphs" stroke="#fff" stroke-width="0.2" style="will-change:transform">1.1067</text>
<rect x="793" y="313" width="34" height="8" fill="#000080"/>
<text transform="translate(796.5,322) scale(1,1.0000)" fill="#fff" font-size="9.6" textLength="27" lengthAdjust="spacingAndGlyphs" stroke="#fff" stroke-width="0.2" style="will-change:transform">1.1001</text>
<line x1="791" y1="325.5" x2="793" y2="325.5" stroke="#000"/>
<text transform="translate(794,335) scale(1,1.0000)" fill="#000" font-size="9.6" textLength="33" lengthAdjust="spacingAndGlyphs" stroke="#000" stroke-width="0.2" style="will-change:transform">0.00269</text>
<line x1="791" y1="358.5" x2="793" y2="358.5" stroke="#000"/>
<text transform="translate(794,361) scale(1,1.0000)" fill="#000" font-size="9.6" textLength="17.5" lengthAdjust="spacingAndGlyphs" stroke="#000" stroke-width="0.2" style="will-change:transform">0.00</text>
<line x1="791" y1="407.5" x2="793" y2="407.5" stroke="#000"/>
<text transform="translate(794,405) scale(1,1.0000)" fill="#000" font-size="9.6" textLength="35" lengthAdjust="spacingAndGlyphs" stroke="#000" stroke-width="0.2" style="will-change:transform">-0.00406</text>
<line x1="791" y1="412.5" x2="793" y2="412.5" stroke="#000"/>
<text transform="translate(795,421) scale(1,1.0000)" fill="#000" font-size="9.6" textLength="13.5" lengthAdjust="spacingAndGlyphs" stroke="#000" stroke-width="0.2" style="will-change:transform">100</text>
<line x1="791" y1="474.5" x2="793" y2="474.5" stroke="#000"/>
<text transform="translate(794,472) scale(1,1.0000)" fill="#000" font-size="9.6" textLength="4.5" lengthAdjust="spacingAndGlyphs" stroke="#000" stroke-width="0.2" style="will-change:transform">0</text>
<line x1="1.5" y1="476" x2="1.5" y2="479" stroke="#000"/>
<text transform="translate(0.5,488) scale(1,1.0000)" fill="#000" font-size="9.6" textLength="53.5" lengthAdjust="spacingAndGlyphs" stroke="#000" stroke-width="0.2" style="will-change:transform">16 May 2006</text>
<line x1="65.5" y1="476" x2="65.5" y2="479" stroke="#000"/>
<text transform="translate(64.5,488) scale(1,1.0000)" fill="#000" font-size="9.6" textLength="57" lengthAdjust="spacingAndGlyphs" stroke="#000" stroke-width="0.2" style="will-change:transform">17 May 02:00</text>
<line x1="129.5" y1="476" x2="129.5" y2="479" stroke="#000"/>
<text transform="translate(128.5,488) scale(1,1.0000)" fill="#000" font-size="9.6" textLength="57" lengthAdjust="spacingAndGlyphs" stroke="#000" stroke-width="0.2" style="will-change:transform">17 May 18:00</text>
<line x1="193.5" y1="476" x2="193.5" y2="479" stroke="#000"/>
<text transform="translate(192.5,488) scale(1,1.0000)" fill="#000" font-size="9.6" textLength="57" lengthAdjust="spacingAndGlyphs" stroke="#000" stroke-width="0.2" style="will-change:transform">18 May 10:00</text>
<line x1="257.5" y1="476" x2="257.5" y2="479" stroke="#000"/>
<text transform="translate(256.5,488) scale(1,1.0000)" fill="#000" font-size="9.6" textLength="57" lengthAdjust="spacingAndGlyphs" stroke="#000" stroke-width="0.2" style="will-change:transform">19 May 02:00</text>
<line x1="321.5" y1="476" x2="321.5" y2="479" stroke="#000"/>
<text transform="translate(320.5,488) scale(1,1.0000)" fill="#000" font-size="9.6" textLength="57" lengthAdjust="spacingAndGlyphs" stroke="#000" stroke-width="0.2" style="will-change:transform">19 May 18:00</text>
<line x1="385.5" y1="476" x2="385.5" y2="479" stroke="#000"/>
<text transform="translate(384.5,488) scale(1,1.0000)" fill="#000" font-size="9.6" textLength="57" lengthAdjust="spacingAndGlyphs" stroke="#000" stroke-width="0.2" style="will-change:transform">22 May 11:00</text>
<line x1="449.5" y1="476" x2="449.5" y2="479" stroke="#000"/>
<text transform="translate(448.5,488) scale(1,1.0000)" fill="#000" font-size="9.6" textLength="57" lengthAdjust="spacingAndGlyphs" stroke="#000" stroke-width="0.2" style="will-change:transform">23 May 03:00</text>
<line x1="513.5" y1="476" x2="513.5" y2="479" stroke="#000"/>
<text transform="translate(512.5,488) scale(1,1.0000)" fill="#000" font-size="9.6" textLength="57" lengthAdjust="spacingAndGlyphs" stroke="#000" stroke-width="0.2" style="will-change:transform">23 May 19:00</text>
<line x1="577.5" y1="476" x2="577.5" y2="479" stroke="#000"/>
<text transform="translate(576.5,488) scale(1,1.0000)" fill="#000" font-size="9.6" textLength="57" lengthAdjust="spacingAndGlyphs" stroke="#000" stroke-width="0.2" style="will-change:transform">24 May 11:00</text>
<line x1="641.5" y1="476" x2="641.5" y2="479" stroke="#000"/>
<text transform="translate(640.5,488) scale(1,1.0000)" fill="#000" font-size="9.6" textLength="57" lengthAdjust="spacingAndGlyphs" stroke="#000" stroke-width="0.2" style="will-change:transform">25 May 03:00</text>
<line x1="705.5" y1="476" x2="705.5" y2="479" stroke="#000"/>
<text transform="translate(704.5,488) scale(1,1.0000)" fill="#000" font-size="9.6" textLength="57" lengthAdjust="spacingAndGlyphs" stroke="#000" stroke-width="0.2" style="will-change:transform">25 May 19:00</text>
<line x1="769.5" y1="476" x2="769.5" y2="479" stroke="#000"/>
<text transform="translate(768.5,488) scale(1,1.0000)" fill="#000" font-size="9.6" textLength="57" lengthAdjust="spacingAndGlyphs" stroke="#000" stroke-width="0.2" style="will-change:transform">26 May 11:00</text>
<text transform="translate(5,9) scale(1,1.0000)" fill="#000" font-size="9.6" textLength="55.5" lengthAdjust="spacingAndGlyphs" stroke="#000" stroke-width="0.2" style="will-change:transform">USDCAD,H1</text>
<text transform="translate(67.5,9) scale(1,1.0000)" fill="#000" font-size="9.6" textLength="119" lengthAdjust="spacingAndGlyphs" stroke="#000" stroke-width="0.2" style="will-change:transform">1.1081 1.1091 1.1051 1.1067</text>
<text transform="translate(5,19) scale(1,1.0000)" fill="#000" font-size="9.6" textLength="25.5" lengthAdjust="spacingAndGlyphs" stroke="#000" stroke-width="0.2" style="will-change:transform">High=</text>
<text transform="translate(32.5,19) scale(1,1.0000)" fill="#000" font-size="9.6" textLength="28.5" lengthAdjust="spacingAndGlyphs" stroke="#000" stroke-width="0.2" style="will-change:transform">1.1226</text>
<text transform="translate(74,19) scale(1,1.0000)" fill="#000" font-size="9.6" textLength="114.5" lengthAdjust="spacingAndGlyphs" stroke="#000" stroke-width="0.2" style="will-change:transform">Previous Days Range= 172</text>
<text transform="translate(5,31) scale(1,1.0000)" fill="#000" font-size="9.6" textLength="23.5" lengthAdjust="spacingAndGlyphs" stroke="#000" stroke-width="0.2" style="will-change:transform">Low=</text>
<text transform="translate(32.5,31) scale(1,1.0000)" fill="#000" font-size="9.6" textLength="28" lengthAdjust="spacingAndGlyphs" stroke="#000" stroke-width="0.2" style="will-change:transform">1.1054</text>
<text transform="translate(72,31) scale(1,1.0000)" fill="#000" font-size="9.6" textLength="104.5" lengthAdjust="spacingAndGlyphs" stroke="#000" stroke-width="0.2" style="will-change:transform">Current Days Range= 51</text>
<text transform="translate(5,43) scale(1,1.0000)" fill="#000" font-size="9.6" textLength="29.5" lengthAdjust="spacingAndGlyphs" stroke="#000" stroke-width="0.2" style="will-change:transform">Close=</text>
<text transform="translate(38.5,43) scale(1,1.0000)" fill="#000" font-size="9.6" textLength="27" lengthAdjust="spacingAndGlyphs" stroke="#000" stroke-width="0.2" style="will-change:transform">1.1061</text>
</svg></body></html>
